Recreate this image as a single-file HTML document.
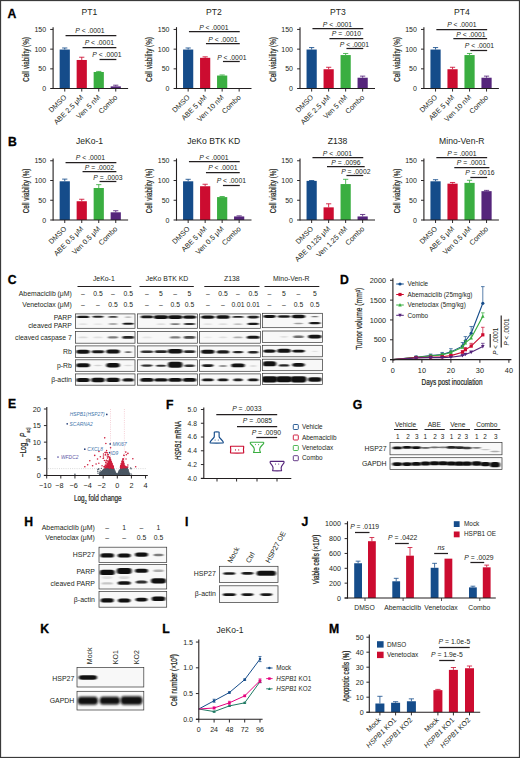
<!DOCTYPE html>
<html lang="en">
<head>
<meta charset="utf-8">
<title>Figure</title>
<style>
html,body{margin:0;padding:0;background:#fff;}
body{width:520px;height:758px;overflow:hidden;}
svg{display:block;}
text{white-space:pre;}
</style>
</head>
<body>
<svg width="520" height="758" viewBox="0 0 520 758" font-family="'Liberation Sans', Arial, sans-serif" fill="#231f20">
<defs>
<filter id="b1" x="-20%" y="-60%" width="140%" height="220%"><feGaussianBlur stdDeviation="1.0 0.65"/></filter>
<filter id="b2" x="-20%" y="-60%" width="140%" height="220%"><feGaussianBlur stdDeviation="1.1 0.8"/></filter>
</defs>
<rect x="0.00" y="0.00" width="520.00" height="758.00" fill="#ffffff"/>
<text x="7.60" y="17.60" font-size="12.2" font-weight="bold" fill="#000" stroke="#000" stroke-width="0.3">A</text>
<text x="89.30" y="15.20" font-size="8.6" text-anchor="middle">PT1</text>
<text x="0.00" y="0.00" font-size="8.8" text-anchor="middle" transform="translate(28.65 59.50) rotate(-90) scale(0.715 1)" stroke="#231f20" stroke-width="0.22">Cell viability (%)</text>
<line x1="64.75" y1="49.54" x2="64.75" y2="47.97" stroke="#154c8a" stroke-width="0.85"/>
<line x1="62.15" y1="47.97" x2="67.35" y2="47.97" stroke="#154c8a" stroke-width="0.85"/>
<rect x="59.65" y="49.54" width="10.20" height="39.01" fill="#154c8a"/>
<line x1="81.75" y1="59.98" x2="81.75" y2="57.23" stroke="#cc0c30" stroke-width="0.85"/>
<line x1="79.15" y1="57.23" x2="84.35" y2="57.23" stroke="#cc0c30" stroke-width="0.85"/>
<rect x="76.65" y="59.98" width="10.20" height="28.56" fill="#cc0c30"/>
<line x1="98.75" y1="72.00" x2="98.75" y2="71.41" stroke="#3aae41" stroke-width="0.85"/>
<line x1="96.15" y1="71.41" x2="101.35" y2="71.41" stroke="#3aae41" stroke-width="0.85"/>
<rect x="93.65" y="72.00" width="10.20" height="16.55" fill="#3aae41"/>
<line x1="115.75" y1="86.38" x2="115.75" y2="85.20" stroke="#55257b" stroke-width="0.85"/>
<line x1="113.15" y1="85.20" x2="118.35" y2="85.20" stroke="#55257b" stroke-width="0.85"/>
<rect x="110.65" y="86.38" width="10.20" height="2.17" fill="#55257b"/>
<line x1="53.10" y1="27.15" x2="53.10" y2="89.10" stroke="#231f20" stroke-width="1.1"/>
<line x1="50.20" y1="88.55" x2="128.10" y2="88.55" stroke="#231f20" stroke-width="1.1"/>
<line x1="50.20" y1="68.85" x2="53.10" y2="68.85" stroke="#231f20" stroke-width="0.95"/>
<line x1="50.20" y1="49.15" x2="53.10" y2="49.15" stroke="#231f20" stroke-width="0.95"/>
<line x1="50.20" y1="29.45" x2="53.10" y2="29.45" stroke="#231f20" stroke-width="0.95"/>
<text x="46.10" y="91.05" font-size="7" text-anchor="end">0</text>
<text x="46.10" y="71.35" font-size="7" text-anchor="end">50</text>
<text x="46.10" y="51.65" font-size="7" text-anchor="end">100</text>
<text x="46.10" y="31.95" font-size="7" text-anchor="end">150</text>
<line x1="64.75" y1="88.55" x2="64.75" y2="91.55" stroke="#231f20" stroke-width="0.95"/>
<text x="0.00" y="0.00" font-size="7.2" text-anchor="end" transform="translate(66.85 97.85) rotate(-45)">DMSO</text>
<line x1="81.75" y1="88.55" x2="81.75" y2="91.55" stroke="#231f20" stroke-width="0.95"/>
<text x="0.00" y="0.00" font-size="7.2" text-anchor="end" transform="translate(83.85 97.85) rotate(-45)">ABE 2.5 μM</text>
<line x1="98.75" y1="88.55" x2="98.75" y2="91.55" stroke="#231f20" stroke-width="0.95"/>
<text x="0.00" y="0.00" font-size="7.2" text-anchor="end" transform="translate(100.85 97.85) rotate(-45)">Ven 5 nM</text>
<line x1="115.75" y1="88.55" x2="115.75" y2="91.55" stroke="#231f20" stroke-width="0.95"/>
<text x="0.00" y="0.00" font-size="7.2" text-anchor="end" transform="translate(117.85 97.85) rotate(-45)">Combo</text>
<line x1="65.55" y1="35.50" x2="116.35" y2="35.50" stroke="#231f20" stroke-width="1.25"/>
<text x="90.00" y="33.00" font-size="6.8" text-anchor="middle"><tspan font-style="italic">P</tspan> &lt; .0001</text>
<line x1="82.55" y1="47.50" x2="116.35" y2="47.50" stroke="#231f20" stroke-width="1.25"/>
<text x="99.30" y="45.00" font-size="6.8" text-anchor="middle"><tspan font-style="italic">P</tspan> &lt; .0001</text>
<line x1="99.55" y1="59.50" x2="116.35" y2="59.50" stroke="#231f20" stroke-width="1.25"/>
<text x="107.00" y="57.40" font-size="6.8" text-anchor="middle"><tspan font-style="italic">P</tspan> &lt; .0001</text>
<text x="213.80" y="15.20" font-size="8.6" text-anchor="middle">PT2</text>
<text x="0.00" y="0.00" font-size="8.8" text-anchor="middle" transform="translate(152.40 59.50) rotate(-90) scale(0.715 1)" stroke="#231f20" stroke-width="0.22">Cell viability (%)</text>
<line x1="188.15" y1="49.54" x2="188.15" y2="47.97" stroke="#154c8a" stroke-width="0.85"/>
<line x1="185.55" y1="47.97" x2="190.75" y2="47.97" stroke="#154c8a" stroke-width="0.85"/>
<rect x="183.05" y="49.54" width="10.20" height="39.01" fill="#154c8a"/>
<line x1="205.15" y1="57.82" x2="205.15" y2="56.83" stroke="#cc0c30" stroke-width="0.85"/>
<line x1="202.55" y1="56.83" x2="207.75" y2="56.83" stroke="#cc0c30" stroke-width="0.85"/>
<rect x="200.05" y="57.82" width="10.20" height="30.73" fill="#cc0c30"/>
<line x1="222.15" y1="75.55" x2="222.15" y2="74.96" stroke="#3aae41" stroke-width="0.85"/>
<line x1="219.55" y1="74.96" x2="224.75" y2="74.96" stroke="#3aae41" stroke-width="0.85"/>
<rect x="217.05" y="75.55" width="10.20" height="13.00" fill="#3aae41"/>
<rect x="234.05" y="88.16" width="10.20" height="0.39" fill="#55257b"/>
<line x1="176.50" y1="27.15" x2="176.50" y2="89.10" stroke="#231f20" stroke-width="1.1"/>
<line x1="173.60" y1="88.55" x2="251.50" y2="88.55" stroke="#231f20" stroke-width="1.1"/>
<line x1="173.60" y1="68.85" x2="176.50" y2="68.85" stroke="#231f20" stroke-width="0.95"/>
<line x1="173.60" y1="49.15" x2="176.50" y2="49.15" stroke="#231f20" stroke-width="0.95"/>
<line x1="173.60" y1="29.45" x2="176.50" y2="29.45" stroke="#231f20" stroke-width="0.95"/>
<text x="169.50" y="91.05" font-size="7" text-anchor="end">0</text>
<text x="169.50" y="71.35" font-size="7" text-anchor="end">50</text>
<text x="169.50" y="51.65" font-size="7" text-anchor="end">100</text>
<text x="169.50" y="31.95" font-size="7" text-anchor="end">150</text>
<line x1="188.15" y1="88.55" x2="188.15" y2="91.55" stroke="#231f20" stroke-width="0.95"/>
<text x="0.00" y="0.00" font-size="7.2" text-anchor="end" transform="translate(190.25 97.85) rotate(-45)">DMSO</text>
<line x1="205.15" y1="88.55" x2="205.15" y2="91.55" stroke="#231f20" stroke-width="0.95"/>
<text x="0.00" y="0.00" font-size="7.2" text-anchor="end" transform="translate(207.25 97.85) rotate(-45)">ABE 5 μM</text>
<line x1="222.15" y1="88.55" x2="222.15" y2="91.55" stroke="#231f20" stroke-width="0.95"/>
<text x="0.00" y="0.00" font-size="7.2" text-anchor="end" transform="translate(224.25 97.85) rotate(-45)">Ven 10 nM</text>
<line x1="239.15" y1="88.55" x2="239.15" y2="91.55" stroke="#231f20" stroke-width="0.95"/>
<text x="0.00" y="0.00" font-size="7.2" text-anchor="end" transform="translate(241.25 97.85) rotate(-45)">Combo</text>
<line x1="188.95" y1="31.50" x2="239.75" y2="31.50" stroke="#231f20" stroke-width="1.25"/>
<text x="213.80" y="29.50" font-size="6.8" text-anchor="middle"><tspan font-style="italic">P</tspan> &lt; .0001</text>
<line x1="205.95" y1="43.50" x2="239.75" y2="43.50" stroke="#231f20" stroke-width="1.25"/>
<text x="223.00" y="41.50" font-size="6.8" text-anchor="middle"><tspan font-style="italic">P</tspan> &lt; .0001</text>
<line x1="222.95" y1="61.50" x2="239.75" y2="61.50" stroke="#231f20" stroke-width="1.25"/>
<text x="231.80" y="60.00" font-size="6.8" text-anchor="middle"><tspan font-style="italic">P</tspan> &lt; .0001</text>
<text x="338.00" y="15.20" font-size="8.6" text-anchor="middle">PT3</text>
<text x="0.00" y="0.00" font-size="8.8" text-anchor="middle" transform="translate(276.20 59.50) rotate(-90) scale(0.715 1)" stroke="#231f20" stroke-width="0.22">Cell viability (%)</text>
<line x1="311.65" y1="49.54" x2="311.65" y2="47.57" stroke="#154c8a" stroke-width="0.85"/>
<line x1="309.05" y1="47.57" x2="314.25" y2="47.57" stroke="#154c8a" stroke-width="0.85"/>
<rect x="306.55" y="49.54" width="10.20" height="39.01" fill="#154c8a"/>
<line x1="328.65" y1="69.24" x2="328.65" y2="67.27" stroke="#cc0c30" stroke-width="0.85"/>
<line x1="326.05" y1="67.27" x2="331.25" y2="67.27" stroke="#cc0c30" stroke-width="0.85"/>
<rect x="323.55" y="69.24" width="10.20" height="19.31" fill="#cc0c30"/>
<line x1="345.65" y1="55.06" x2="345.65" y2="53.48" stroke="#3aae41" stroke-width="0.85"/>
<line x1="343.05" y1="53.48" x2="348.25" y2="53.48" stroke="#3aae41" stroke-width="0.85"/>
<rect x="340.55" y="55.06" width="10.20" height="33.49" fill="#3aae41"/>
<line x1="362.65" y1="77.72" x2="362.65" y2="76.14" stroke="#55257b" stroke-width="0.85"/>
<line x1="360.05" y1="76.14" x2="365.25" y2="76.14" stroke="#55257b" stroke-width="0.85"/>
<rect x="357.55" y="77.72" width="10.20" height="10.83" fill="#55257b"/>
<line x1="300.00" y1="27.15" x2="300.00" y2="89.10" stroke="#231f20" stroke-width="1.1"/>
<line x1="297.10" y1="88.55" x2="375.00" y2="88.55" stroke="#231f20" stroke-width="1.1"/>
<line x1="297.10" y1="68.85" x2="300.00" y2="68.85" stroke="#231f20" stroke-width="0.95"/>
<line x1="297.10" y1="49.15" x2="300.00" y2="49.15" stroke="#231f20" stroke-width="0.95"/>
<line x1="297.10" y1="29.45" x2="300.00" y2="29.45" stroke="#231f20" stroke-width="0.95"/>
<text x="293.00" y="91.05" font-size="7" text-anchor="end">0</text>
<text x="293.00" y="71.35" font-size="7" text-anchor="end">50</text>
<text x="293.00" y="51.65" font-size="7" text-anchor="end">100</text>
<text x="293.00" y="31.95" font-size="7" text-anchor="end">150</text>
<line x1="311.65" y1="88.55" x2="311.65" y2="91.55" stroke="#231f20" stroke-width="0.95"/>
<text x="0.00" y="0.00" font-size="7.2" text-anchor="end" transform="translate(313.75 97.85) rotate(-45)">DMSO</text>
<line x1="328.65" y1="88.55" x2="328.65" y2="91.55" stroke="#231f20" stroke-width="0.95"/>
<text x="0.00" y="0.00" font-size="7.2" text-anchor="end" transform="translate(330.75 97.85) rotate(-45)">ABE 2.5 μM</text>
<line x1="345.65" y1="88.55" x2="345.65" y2="91.55" stroke="#231f20" stroke-width="0.95"/>
<text x="0.00" y="0.00" font-size="7.2" text-anchor="end" transform="translate(347.75 97.85) rotate(-45)">Ven 5 nM</text>
<line x1="362.65" y1="88.55" x2="362.65" y2="91.55" stroke="#231f20" stroke-width="0.95"/>
<text x="0.00" y="0.00" font-size="7.2" text-anchor="end" transform="translate(364.75 97.85) rotate(-45)">Combo</text>
<line x1="312.45" y1="28.50" x2="363.25" y2="28.50" stroke="#231f20" stroke-width="1.25"/>
<text x="337.50" y="26.80" font-size="6.8" text-anchor="middle"><tspan font-style="italic">P</tspan> &lt; .0001</text>
<line x1="329.45" y1="38.50" x2="363.25" y2="38.50" stroke="#231f20" stroke-width="1.25"/>
<text x="346.50" y="36.30" font-size="6.8" text-anchor="middle"><tspan font-style="italic">P</tspan> = .0010</text>
<line x1="346.45" y1="48.50" x2="363.25" y2="48.50" stroke="#231f20" stroke-width="1.25"/>
<text x="354.50" y="46.60" font-size="6.8" text-anchor="middle"><tspan font-style="italic">P</tspan> &lt; .0001</text>
<text x="461.80" y="15.20" font-size="8.6" text-anchor="middle">PT4</text>
<text x="0.00" y="0.00" font-size="8.8" text-anchor="middle" transform="translate(399.90 59.50) rotate(-90) scale(0.715 1)" stroke="#231f20" stroke-width="0.22">Cell viability (%)</text>
<line x1="435.55" y1="49.54" x2="435.55" y2="47.57" stroke="#154c8a" stroke-width="0.85"/>
<line x1="432.95" y1="47.57" x2="438.15" y2="47.57" stroke="#154c8a" stroke-width="0.85"/>
<rect x="430.45" y="49.54" width="10.20" height="39.01" fill="#154c8a"/>
<line x1="452.55" y1="69.24" x2="452.55" y2="67.27" stroke="#cc0c30" stroke-width="0.85"/>
<line x1="449.95" y1="67.27" x2="455.15" y2="67.27" stroke="#cc0c30" stroke-width="0.85"/>
<rect x="447.45" y="69.24" width="10.20" height="19.31" fill="#cc0c30"/>
<line x1="469.55" y1="55.06" x2="469.55" y2="53.48" stroke="#3aae41" stroke-width="0.85"/>
<line x1="466.95" y1="53.48" x2="472.15" y2="53.48" stroke="#3aae41" stroke-width="0.85"/>
<rect x="464.45" y="55.06" width="10.20" height="33.49" fill="#3aae41"/>
<line x1="486.55" y1="77.72" x2="486.55" y2="76.14" stroke="#55257b" stroke-width="0.85"/>
<line x1="483.95" y1="76.14" x2="489.15" y2="76.14" stroke="#55257b" stroke-width="0.85"/>
<rect x="481.45" y="77.72" width="10.20" height="10.83" fill="#55257b"/>
<line x1="423.90" y1="27.15" x2="423.90" y2="89.10" stroke="#231f20" stroke-width="1.1"/>
<line x1="421.00" y1="88.55" x2="498.90" y2="88.55" stroke="#231f20" stroke-width="1.1"/>
<line x1="421.00" y1="68.85" x2="423.90" y2="68.85" stroke="#231f20" stroke-width="0.95"/>
<line x1="421.00" y1="49.15" x2="423.90" y2="49.15" stroke="#231f20" stroke-width="0.95"/>
<line x1="421.00" y1="29.45" x2="423.90" y2="29.45" stroke="#231f20" stroke-width="0.95"/>
<text x="416.90" y="91.05" font-size="7" text-anchor="end">0</text>
<text x="416.90" y="71.35" font-size="7" text-anchor="end">50</text>
<text x="416.90" y="51.65" font-size="7" text-anchor="end">100</text>
<text x="416.90" y="31.95" font-size="7" text-anchor="end">150</text>
<line x1="435.55" y1="88.55" x2="435.55" y2="91.55" stroke="#231f20" stroke-width="0.95"/>
<text x="0.00" y="0.00" font-size="7.2" text-anchor="end" transform="translate(437.65 97.85) rotate(-45)">DMSO</text>
<line x1="452.55" y1="88.55" x2="452.55" y2="91.55" stroke="#231f20" stroke-width="0.95"/>
<text x="0.00" y="0.00" font-size="7.2" text-anchor="end" transform="translate(454.65 97.85) rotate(-45)">ABE 5 μM</text>
<line x1="469.55" y1="88.55" x2="469.55" y2="91.55" stroke="#231f20" stroke-width="0.95"/>
<text x="0.00" y="0.00" font-size="7.2" text-anchor="end" transform="translate(471.65 97.85) rotate(-45)">Ven 10 nM</text>
<line x1="486.55" y1="88.55" x2="486.55" y2="91.55" stroke="#231f20" stroke-width="0.95"/>
<text x="0.00" y="0.00" font-size="7.2" text-anchor="end" transform="translate(488.65 97.85) rotate(-45)">Combo</text>
<line x1="436.35" y1="29.50" x2="487.15" y2="29.50" stroke="#231f20" stroke-width="1.25"/>
<text x="461.80" y="27.30" font-size="6.8" text-anchor="middle"><tspan font-style="italic">P</tspan> &lt; .0001</text>
<line x1="453.35" y1="38.50" x2="487.15" y2="38.50" stroke="#231f20" stroke-width="1.25"/>
<text x="471.00" y="36.80" font-size="6.8" text-anchor="middle"><tspan font-style="italic">P</tspan> &lt; .0001</text>
<line x1="470.35" y1="50.50" x2="487.15" y2="50.50" stroke="#231f20" stroke-width="1.25"/>
<text x="479.50" y="48.20" font-size="6.8" text-anchor="middle"><tspan font-style="italic">P</tspan> &lt; .0001</text>
<text x="8.00" y="145.60" font-size="12.2" font-weight="bold" fill="#000" stroke="#000" stroke-width="0.3">B</text>
<text x="89.50" y="143.80" font-size="8.6" text-anchor="middle">JeKo-1</text>
<text x="0.00" y="0.00" font-size="8.8" text-anchor="middle" transform="translate(28.65 190.88) rotate(-90) scale(0.715 1)" stroke="#231f20" stroke-width="0.22">Cell viability (%)</text>
<line x1="64.75" y1="181.29" x2="64.75" y2="179.12" stroke="#154c8a" stroke-width="0.85"/>
<line x1="62.15" y1="179.12" x2="67.35" y2="179.12" stroke="#154c8a" stroke-width="0.85"/>
<rect x="59.65" y="181.29" width="10.20" height="38.71" fill="#154c8a"/>
<line x1="81.75" y1="201.24" x2="81.75" y2="199.26" stroke="#cc0c30" stroke-width="0.85"/>
<line x1="79.15" y1="199.26" x2="84.35" y2="199.26" stroke="#cc0c30" stroke-width="0.85"/>
<rect x="76.65" y="201.24" width="10.20" height="18.76" fill="#cc0c30"/>
<line x1="98.75" y1="188.00" x2="98.75" y2="184.65" stroke="#3aae41" stroke-width="0.85"/>
<line x1="96.15" y1="184.65" x2="101.35" y2="184.65" stroke="#3aae41" stroke-width="0.85"/>
<rect x="93.65" y="188.00" width="10.20" height="32.00" fill="#3aae41"/>
<line x1="115.75" y1="212.30" x2="115.75" y2="210.72" stroke="#55257b" stroke-width="0.85"/>
<line x1="113.15" y1="210.72" x2="118.35" y2="210.72" stroke="#55257b" stroke-width="0.85"/>
<rect x="110.65" y="212.30" width="10.20" height="7.70" fill="#55257b"/>
<line x1="53.10" y1="158.45" x2="53.10" y2="220.55" stroke="#231f20" stroke-width="1.1"/>
<line x1="50.20" y1="220.00" x2="128.10" y2="220.00" stroke="#231f20" stroke-width="1.1"/>
<line x1="50.20" y1="200.25" x2="53.10" y2="200.25" stroke="#231f20" stroke-width="0.95"/>
<line x1="50.20" y1="180.50" x2="53.10" y2="180.50" stroke="#231f20" stroke-width="0.95"/>
<line x1="50.20" y1="160.75" x2="53.10" y2="160.75" stroke="#231f20" stroke-width="0.95"/>
<text x="46.10" y="222.50" font-size="7" text-anchor="end">0</text>
<text x="46.10" y="202.75" font-size="7" text-anchor="end">50</text>
<text x="46.10" y="183.00" font-size="7" text-anchor="end">100</text>
<text x="46.10" y="163.25" font-size="7" text-anchor="end">150</text>
<line x1="64.75" y1="220.00" x2="64.75" y2="223.00" stroke="#231f20" stroke-width="0.95"/>
<text x="0.00" y="0.00" font-size="7.2" text-anchor="end" transform="translate(66.85 229.30) rotate(-45)">DMSO</text>
<line x1="81.75" y1="220.00" x2="81.75" y2="223.00" stroke="#231f20" stroke-width="0.95"/>
<text x="0.00" y="0.00" font-size="7.2" text-anchor="end" transform="translate(83.85 229.30) rotate(-45)">ABE 0.5 μM</text>
<line x1="98.75" y1="220.00" x2="98.75" y2="223.00" stroke="#231f20" stroke-width="0.95"/>
<text x="0.00" y="0.00" font-size="7.2" text-anchor="end" transform="translate(100.85 229.30) rotate(-45)">Ven 0.5 μM</text>
<line x1="115.75" y1="220.00" x2="115.75" y2="223.00" stroke="#231f20" stroke-width="0.95"/>
<text x="0.00" y="0.00" font-size="7.2" text-anchor="end" transform="translate(117.85 229.30) rotate(-45)">Combo</text>
<line x1="65.55" y1="162.50" x2="116.35" y2="162.50" stroke="#231f20" stroke-width="1.25"/>
<text x="90.50" y="159.70" font-size="6.8" text-anchor="middle"><tspan font-style="italic">P</tspan> &lt; .0001</text>
<line x1="82.55" y1="171.50" x2="116.35" y2="171.50" stroke="#231f20" stroke-width="1.25"/>
<text x="99.50" y="169.60" font-size="6.8" text-anchor="middle"><tspan font-style="italic">P</tspan> = .0002</text>
<line x1="99.55" y1="181.50" x2="116.35" y2="181.50" stroke="#231f20" stroke-width="1.25"/>
<text x="108.00" y="179.50" font-size="6.8" text-anchor="middle"><tspan font-style="italic">P</tspan> = .0003</text>
<text x="213.80" y="143.80" font-size="8.6" text-anchor="middle">JeKo BTK KD</text>
<text x="0.00" y="0.00" font-size="8.8" text-anchor="middle" transform="translate(152.40 190.88) rotate(-90) scale(0.715 1)" stroke="#231f20" stroke-width="0.22">Cell viability (%)</text>
<line x1="188.15" y1="181.29" x2="188.15" y2="179.31" stroke="#154c8a" stroke-width="0.85"/>
<line x1="185.55" y1="179.31" x2="190.75" y2="179.31" stroke="#154c8a" stroke-width="0.85"/>
<rect x="183.05" y="181.29" width="10.20" height="38.71" fill="#154c8a"/>
<line x1="205.15" y1="186.23" x2="205.15" y2="184.25" stroke="#cc0c30" stroke-width="0.85"/>
<line x1="202.55" y1="184.25" x2="207.75" y2="184.25" stroke="#cc0c30" stroke-width="0.85"/>
<rect x="200.05" y="186.23" width="10.20" height="33.77" fill="#cc0c30"/>
<line x1="222.15" y1="197.09" x2="222.15" y2="196.50" stroke="#3aae41" stroke-width="0.85"/>
<line x1="219.55" y1="196.50" x2="224.75" y2="196.50" stroke="#3aae41" stroke-width="0.85"/>
<rect x="217.05" y="197.09" width="10.20" height="22.91" fill="#3aae41"/>
<line x1="239.15" y1="216.44" x2="239.15" y2="215.85" stroke="#55257b" stroke-width="0.85"/>
<line x1="236.55" y1="215.85" x2="241.75" y2="215.85" stroke="#55257b" stroke-width="0.85"/>
<rect x="234.05" y="216.44" width="10.20" height="3.56" fill="#55257b"/>
<line x1="176.50" y1="158.45" x2="176.50" y2="220.55" stroke="#231f20" stroke-width="1.1"/>
<line x1="173.60" y1="220.00" x2="251.50" y2="220.00" stroke="#231f20" stroke-width="1.1"/>
<line x1="173.60" y1="200.25" x2="176.50" y2="200.25" stroke="#231f20" stroke-width="0.95"/>
<line x1="173.60" y1="180.50" x2="176.50" y2="180.50" stroke="#231f20" stroke-width="0.95"/>
<line x1="173.60" y1="160.75" x2="176.50" y2="160.75" stroke="#231f20" stroke-width="0.95"/>
<text x="169.50" y="222.50" font-size="7" text-anchor="end">0</text>
<text x="169.50" y="202.75" font-size="7" text-anchor="end">50</text>
<text x="169.50" y="183.00" font-size="7" text-anchor="end">100</text>
<text x="169.50" y="163.25" font-size="7" text-anchor="end">150</text>
<line x1="188.15" y1="220.00" x2="188.15" y2="223.00" stroke="#231f20" stroke-width="0.95"/>
<text x="0.00" y="0.00" font-size="7.2" text-anchor="end" transform="translate(190.25 229.30) rotate(-45)">DMSO</text>
<line x1="205.15" y1="220.00" x2="205.15" y2="223.00" stroke="#231f20" stroke-width="0.95"/>
<text x="0.00" y="0.00" font-size="7.2" text-anchor="end" transform="translate(207.25 229.30) rotate(-45)">ABE 5 μM</text>
<line x1="222.15" y1="220.00" x2="222.15" y2="223.00" stroke="#231f20" stroke-width="0.95"/>
<text x="0.00" y="0.00" font-size="7.2" text-anchor="end" transform="translate(224.25 229.30) rotate(-45)">Ven 0.5 μM</text>
<line x1="239.15" y1="220.00" x2="239.15" y2="223.00" stroke="#231f20" stroke-width="0.95"/>
<text x="0.00" y="0.00" font-size="7.2" text-anchor="end" transform="translate(241.25 229.30) rotate(-45)">Combo</text>
<line x1="188.95" y1="161.50" x2="239.75" y2="161.50" stroke="#231f20" stroke-width="1.25"/>
<text x="213.80" y="159.70" font-size="6.8" text-anchor="middle"><tspan font-style="italic">P</tspan> &lt; .0001</text>
<line x1="205.95" y1="172.50" x2="239.75" y2="172.50" stroke="#231f20" stroke-width="1.25"/>
<text x="222.80" y="170.40" font-size="6.8" text-anchor="middle"><tspan font-style="italic">P</tspan> &lt; .0001</text>
<line x1="222.95" y1="185.50" x2="239.75" y2="185.50" stroke="#231f20" stroke-width="1.25"/>
<text x="231.30" y="183.20" font-size="6.8" text-anchor="middle"><tspan font-style="italic">P</tspan> &lt; .0001</text>
<text x="337.50" y="143.80" font-size="8.6" text-anchor="middle">Z138</text>
<text x="0.00" y="0.00" font-size="8.8" text-anchor="middle" transform="translate(276.20 190.88) rotate(-90) scale(0.715 1)" stroke="#231f20" stroke-width="0.22">Cell viability (%)</text>
<line x1="311.65" y1="180.89" x2="311.65" y2="180.50" stroke="#154c8a" stroke-width="0.85"/>
<line x1="309.05" y1="180.50" x2="314.25" y2="180.50" stroke="#154c8a" stroke-width="0.85"/>
<rect x="306.55" y="180.89" width="10.20" height="39.11" fill="#154c8a"/>
<line x1="328.65" y1="207.36" x2="328.65" y2="203.81" stroke="#cc0c30" stroke-width="0.85"/>
<line x1="326.05" y1="203.81" x2="331.25" y2="203.81" stroke="#cc0c30" stroke-width="0.85"/>
<rect x="323.55" y="207.36" width="10.20" height="12.64" fill="#cc0c30"/>
<line x1="345.65" y1="184.06" x2="345.65" y2="179.31" stroke="#3aae41" stroke-width="0.85"/>
<line x1="343.05" y1="179.31" x2="348.25" y2="179.31" stroke="#3aae41" stroke-width="0.85"/>
<rect x="340.55" y="184.06" width="10.20" height="35.94" fill="#3aae41"/>
<line x1="362.65" y1="216.44" x2="362.65" y2="214.47" stroke="#55257b" stroke-width="0.85"/>
<line x1="360.05" y1="214.47" x2="365.25" y2="214.47" stroke="#55257b" stroke-width="0.85"/>
<rect x="357.55" y="216.44" width="10.20" height="3.56" fill="#55257b"/>
<line x1="300.00" y1="158.45" x2="300.00" y2="220.55" stroke="#231f20" stroke-width="1.1"/>
<line x1="297.10" y1="220.00" x2="375.00" y2="220.00" stroke="#231f20" stroke-width="1.1"/>
<line x1="297.10" y1="200.25" x2="300.00" y2="200.25" stroke="#231f20" stroke-width="0.95"/>
<line x1="297.10" y1="180.50" x2="300.00" y2="180.50" stroke="#231f20" stroke-width="0.95"/>
<line x1="297.10" y1="160.75" x2="300.00" y2="160.75" stroke="#231f20" stroke-width="0.95"/>
<text x="293.00" y="222.50" font-size="7" text-anchor="end">0</text>
<text x="293.00" y="202.75" font-size="7" text-anchor="end">50</text>
<text x="293.00" y="183.00" font-size="7" text-anchor="end">100</text>
<text x="293.00" y="163.25" font-size="7" text-anchor="end">150</text>
<line x1="311.65" y1="220.00" x2="311.65" y2="223.00" stroke="#231f20" stroke-width="0.95"/>
<text x="0.00" y="0.00" font-size="7.2" text-anchor="end" transform="translate(313.75 229.30) rotate(-45)">DMSO</text>
<line x1="328.65" y1="220.00" x2="328.65" y2="223.00" stroke="#231f20" stroke-width="0.95"/>
<text x="0.00" y="0.00" font-size="7.2" text-anchor="end" transform="translate(330.75 229.30) rotate(-45)">ABE 0.125 μM</text>
<line x1="345.65" y1="220.00" x2="345.65" y2="223.00" stroke="#231f20" stroke-width="0.95"/>
<text x="0.00" y="0.00" font-size="7.2" text-anchor="end" transform="translate(347.75 229.30) rotate(-45)">Ven 1.25 nM</text>
<line x1="362.65" y1="220.00" x2="362.65" y2="223.00" stroke="#231f20" stroke-width="0.95"/>
<text x="0.00" y="0.00" font-size="7.2" text-anchor="end" transform="translate(364.75 229.30) rotate(-45)">Combo</text>
<line x1="312.45" y1="157.50" x2="363.25" y2="157.50" stroke="#231f20" stroke-width="1.25"/>
<text x="337.50" y="156.00" font-size="6.8" text-anchor="middle"><tspan font-style="italic">P</tspan> &lt; .0001</text>
<line x1="327.00" y1="166.50" x2="364.70" y2="166.50" stroke="#231f20" stroke-width="1.25"/>
<text x="346.00" y="165.00" font-size="6.8" text-anchor="middle"><tspan font-style="italic">P</tspan> = .0096</text>
<line x1="346.45" y1="175.50" x2="363.25" y2="175.50" stroke="#231f20" stroke-width="1.25"/>
<text x="355.80" y="174.20" font-size="6.8" text-anchor="middle"><tspan font-style="italic">P</tspan> = .0002</text>
<text x="461.80" y="143.80" font-size="8.6" text-anchor="middle">Mino-Ven-R</text>
<text x="0.00" y="0.00" font-size="8.8" text-anchor="middle" transform="translate(399.90 190.88) rotate(-90) scale(0.715 1)" stroke="#231f20" stroke-width="0.22">Cell viability (%)</text>
<line x1="435.55" y1="181.29" x2="435.55" y2="179.71" stroke="#154c8a" stroke-width="0.85"/>
<line x1="432.95" y1="179.71" x2="438.15" y2="179.71" stroke="#154c8a" stroke-width="0.85"/>
<rect x="430.45" y="181.29" width="10.20" height="38.71" fill="#154c8a"/>
<line x1="452.55" y1="183.66" x2="452.55" y2="182.47" stroke="#cc0c30" stroke-width="0.85"/>
<line x1="449.95" y1="182.47" x2="455.15" y2="182.47" stroke="#cc0c30" stroke-width="0.85"/>
<rect x="447.45" y="183.66" width="10.20" height="36.34" fill="#cc0c30"/>
<line x1="469.55" y1="182.87" x2="469.55" y2="180.30" stroke="#3aae41" stroke-width="0.85"/>
<line x1="466.95" y1="180.30" x2="472.15" y2="180.30" stroke="#3aae41" stroke-width="0.85"/>
<rect x="464.45" y="182.87" width="10.20" height="37.13" fill="#3aae41"/>
<line x1="486.55" y1="191.16" x2="486.55" y2="190.38" stroke="#55257b" stroke-width="0.85"/>
<line x1="483.95" y1="190.38" x2="489.15" y2="190.38" stroke="#55257b" stroke-width="0.85"/>
<rect x="481.45" y="191.16" width="10.20" height="28.84" fill="#55257b"/>
<line x1="423.90" y1="158.45" x2="423.90" y2="220.55" stroke="#231f20" stroke-width="1.1"/>
<line x1="421.00" y1="220.00" x2="498.90" y2="220.00" stroke="#231f20" stroke-width="1.1"/>
<line x1="421.00" y1="200.25" x2="423.90" y2="200.25" stroke="#231f20" stroke-width="0.95"/>
<line x1="421.00" y1="180.50" x2="423.90" y2="180.50" stroke="#231f20" stroke-width="0.95"/>
<line x1="421.00" y1="160.75" x2="423.90" y2="160.75" stroke="#231f20" stroke-width="0.95"/>
<text x="416.90" y="222.50" font-size="7" text-anchor="end">0</text>
<text x="416.90" y="202.75" font-size="7" text-anchor="end">50</text>
<text x="416.90" y="183.00" font-size="7" text-anchor="end">100</text>
<text x="416.90" y="163.25" font-size="7" text-anchor="end">150</text>
<line x1="435.55" y1="220.00" x2="435.55" y2="223.00" stroke="#231f20" stroke-width="0.95"/>
<text x="0.00" y="0.00" font-size="7.2" text-anchor="end" transform="translate(437.65 229.30) rotate(-45)">DMSO</text>
<line x1="452.55" y1="220.00" x2="452.55" y2="223.00" stroke="#231f20" stroke-width="0.95"/>
<text x="0.00" y="0.00" font-size="7.2" text-anchor="end" transform="translate(454.65 229.30) rotate(-45)">ABE 5 μM</text>
<line x1="469.55" y1="220.00" x2="469.55" y2="223.00" stroke="#231f20" stroke-width="0.95"/>
<text x="0.00" y="0.00" font-size="7.2" text-anchor="end" transform="translate(471.65 229.30) rotate(-45)">Ven 0.5 μM</text>
<line x1="486.55" y1="220.00" x2="486.55" y2="223.00" stroke="#231f20" stroke-width="0.95"/>
<text x="0.00" y="0.00" font-size="7.2" text-anchor="end" transform="translate(488.65 229.30) rotate(-45)">Combo</text>
<line x1="436.35" y1="157.50" x2="487.15" y2="157.50" stroke="#231f20" stroke-width="1.25"/>
<text x="461.80" y="155.70" font-size="6.8" text-anchor="middle"><tspan font-style="italic">P</tspan> = .0001</text>
<line x1="454.30" y1="167.50" x2="489.40" y2="167.50" stroke="#231f20" stroke-width="1.25"/>
<text x="471.50" y="165.40" font-size="6.8" text-anchor="middle"><tspan font-style="italic">P</tspan> = .0001</text>
<line x1="470.35" y1="177.50" x2="487.15" y2="177.50" stroke="#231f20" stroke-width="1.25"/>
<text x="479.80" y="175.20" font-size="6.8" text-anchor="middle"><tspan font-style="italic">P</tspan> = .0016</text>
<text x="7.80" y="283.80" font-size="12.2" font-weight="bold" fill="#000" stroke="#000" stroke-width="0.3">C</text>
<text x="71.80" y="296.30" font-size="6.85" text-anchor="end">Abemaciclib (μM)</text>
<text x="71.80" y="307.10" font-size="6.85" text-anchor="end">Venetoclax (μM)</text>
<text x="71.80" y="320.20" font-size="6.85" text-anchor="end">PARP</text>
<text x="71.80" y="327.80" font-size="6.85" text-anchor="end">cleaved PARP</text>
<text x="71.80" y="340.10" font-size="6.85" text-anchor="end">cleaved caspase 7</text>
<text x="71.80" y="354.40" font-size="6.85" text-anchor="end">Rb</text>
<text x="71.80" y="368.10" font-size="6.85" text-anchor="end">p-Rb</text>
<text x="71.80" y="381.90" font-size="6.85" text-anchor="end">β-actin</text>
<text x="103.80" y="281.40" font-size="6.9" text-anchor="middle">JeKo-1</text>
<line x1="77.50" y1="286.50" x2="131.30" y2="286.50" stroke="#231f20" stroke-width="1"/>
<text x="83.00" y="296.30" font-size="6.8" text-anchor="middle">–</text>
<text x="98.00" y="296.30" font-size="6.8" text-anchor="middle">0.5</text>
<text x="113.00" y="296.30" font-size="6.8" text-anchor="middle">–</text>
<text x="128.20" y="296.30" font-size="6.8" text-anchor="middle">0.5</text>
<text x="83.00" y="307.10" font-size="6.8" text-anchor="middle">–</text>
<text x="98.00" y="307.10" font-size="6.8" text-anchor="middle">–</text>
<text x="113.00" y="307.10" font-size="6.8" text-anchor="middle">0.5</text>
<text x="128.20" y="307.10" font-size="6.8" text-anchor="middle">0.5</text>
<g clip-path="url(#cc0_0)">
<clipPath id="cc0_0"><rect x="75.50" y="313.90" width="59.50" height="14.40"/></clipPath>
<rect x="75.50" y="313.90" width="59.50" height="14.40" fill="#f8f8f8"/>
<rect x="76.76" y="315.70" width="12.48" height="2.39" rx="3.20" ry="1.20" fill="#0c0c0c" fill-opacity="0.95" filter="url(#b1)"/>
<rect x="92.28" y="315.69" width="11.44" height="2.02" rx="3.20" ry="1.01" fill="#0c0c0c" fill-opacity="0.90" filter="url(#b1)"/>
<rect x="108.32" y="315.98" width="9.36" height="1.84" rx="3.20" ry="0.92" fill="#0c0c0c" fill-opacity="0.80" filter="url(#b1)"/>
<rect x="124.56" y="316.46" width="7.28" height="1.29" rx="3.20" ry="0.64" fill="#0c0c0c" fill-opacity="0.35" filter="url(#b1)"/>
<rect x="78.32" y="323.46" width="9.36" height="1.29" rx="3.20" ry="0.64" fill="#0c0c0c" fill-opacity="0.12" filter="url(#b1)"/>
<rect x="93.32" y="323.46" width="9.36" height="1.29" rx="3.20" ry="0.64" fill="#0c0c0c" fill-opacity="0.10" filter="url(#b1)"/>
<rect x="108.32" y="323.36" width="9.36" height="1.47" rx="3.20" ry="0.74" fill="#0c0c0c" fill-opacity="0.40" filter="url(#b1)"/>
<rect x="122.48" y="322.79" width="11.44" height="2.02" rx="3.20" ry="1.01" fill="#0c0c0c" fill-opacity="0.95" filter="url(#b1)"/>
</g>
<rect x="75.50" y="313.90" width="59.50" height="14.40" fill="none" stroke="#333" stroke-width="0.7"/>
<g clip-path="url(#cc0_1)">
<clipPath id="cc0_1"><rect x="75.50" y="331.60" width="59.50" height="11.60"/></clipPath>
<rect x="75.50" y="331.60" width="59.50" height="11.60" fill="#f8f8f8"/>
<rect x="78.32" y="336.48" width="9.36" height="1.84" rx="3.20" ry="0.92" fill="#0c0c0c" fill-opacity="0.12" filter="url(#b1)"/>
<rect x="93.32" y="336.48" width="9.36" height="1.84" rx="3.20" ry="0.92" fill="#0c0c0c" fill-opacity="0.10" filter="url(#b1)"/>
<rect x="107.80" y="336.30" width="10.40" height="2.21" rx="3.20" ry="1.10" fill="#0c0c0c" fill-opacity="0.50" filter="url(#b1)"/>
<rect x="122.22" y="336.02" width="11.96" height="2.76" rx="3.20" ry="1.38" fill="#0c0c0c" fill-opacity="0.90" filter="url(#b1)"/>
</g>
<rect x="75.50" y="331.60" width="59.50" height="11.60" fill="none" stroke="#333" stroke-width="0.7"/>
<g clip-path="url(#cc0_2)">
<clipPath id="cc0_2"><rect x="75.50" y="345.90" width="59.50" height="11.50"/></clipPath>
<rect x="75.50" y="345.90" width="59.50" height="11.50" fill="#f8f8f8"/>
<rect x="76.24" y="349.77" width="13.52" height="3.86" rx="3.20" ry="1.93" fill="#0c0c0c" fill-opacity="0.98" filter="url(#b1)"/>
<rect x="91.76" y="350.23" width="12.48" height="2.94" rx="3.20" ry="1.47" fill="#0c0c0c" fill-opacity="0.95" filter="url(#b1)"/>
<rect x="106.24" y="349.38" width="13.52" height="4.23" rx="3.20" ry="2.12" fill="#0c0c0c" fill-opacity="0.98" filter="url(#b1)"/>
<rect x="124.56" y="351.18" width="7.28" height="1.84" rx="3.20" ry="0.92" fill="#0c0c0c" fill-opacity="0.60" filter="url(#b1)"/>
</g>
<rect x="75.50" y="345.90" width="59.50" height="11.50" fill="none" stroke="#333" stroke-width="0.7"/>
<g clip-path="url(#cc0_3)">
<clipPath id="cc0_3"><rect x="75.50" y="359.80" width="59.50" height="11.50"/></clipPath>
<rect x="75.50" y="359.80" width="59.50" height="11.50" fill="#f8f8f8"/>
<rect x="76.24" y="363.18" width="13.52" height="4.05" rx="3.20" ry="2.02" fill="#0c0c0c" fill-opacity="0.98" filter="url(#b1)"/>
<rect x="93.84" y="364.86" width="8.32" height="1.47" rx="3.20" ry="0.74" fill="#0c0c0c" fill-opacity="0.15" filter="url(#b1)"/>
<rect x="106.24" y="362.99" width="13.52" height="4.42" rx="3.20" ry="2.21" fill="#0c0c0c" fill-opacity="0.98" filter="url(#b1)"/>
<rect x="124.04" y="364.86" width="8.32" height="1.47" rx="3.20" ry="0.74" fill="#0c0c0c" fill-opacity="0.12" filter="url(#b1)"/>
</g>
<rect x="75.50" y="359.80" width="59.50" height="11.50" fill="none" stroke="#333" stroke-width="0.7"/>
<g clip-path="url(#cc0_4)">
<clipPath id="cc0_4"><rect x="75.50" y="373.90" width="59.50" height="11.30"/></clipPath>
<rect x="75.50" y="373.90" width="59.50" height="11.30" fill="#f8f8f8"/>
<rect x="76.24" y="377.88" width="13.52" height="4.04" rx="3.20" ry="2.02" fill="#0c0c0c" fill-opacity="0.98" filter="url(#b1)"/>
<rect x="91.24" y="377.66" width="13.52" height="4.49" rx="3.20" ry="2.24" fill="#0c0c0c" fill-opacity="0.98" filter="url(#b1)"/>
<rect x="106.24" y="377.77" width="13.52" height="4.27" rx="3.20" ry="2.13" fill="#0c0c0c" fill-opacity="0.98" filter="url(#b1)"/>
<rect x="122.48" y="378.22" width="11.44" height="3.37" rx="3.20" ry="1.68" fill="#0c0c0c" fill-opacity="0.95" filter="url(#b1)"/>
</g>
<rect x="75.50" y="373.90" width="59.50" height="11.30" fill="none" stroke="#333" stroke-width="0.7"/>
<text x="167.00" y="281.40" font-size="6.9" text-anchor="middle">JeKo BTK KD</text>
<line x1="139.50" y1="286.50" x2="193.80" y2="286.50" stroke="#231f20" stroke-width="1"/>
<text x="147.00" y="296.30" font-size="6.8" text-anchor="middle">–</text>
<text x="161.00" y="296.30" font-size="6.8" text-anchor="middle">5</text>
<text x="175.20" y="296.30" font-size="6.8" text-anchor="middle">–</text>
<text x="189.50" y="296.30" font-size="6.8" text-anchor="middle">5</text>
<text x="147.00" y="307.10" font-size="6.8" text-anchor="middle">–</text>
<text x="161.00" y="307.10" font-size="6.8" text-anchor="middle">–</text>
<text x="175.20" y="307.10" font-size="6.8" text-anchor="middle">0.5</text>
<text x="189.50" y="307.10" font-size="6.8" text-anchor="middle">0.5</text>
<g clip-path="url(#cc1_0)">
<clipPath id="cc1_0"><rect x="137.50" y="313.90" width="60.00" height="14.40"/></clipPath>
<rect x="137.50" y="313.90" width="60.00" height="14.40" fill="#f8f8f8"/>
<rect x="140.76" y="315.61" width="12.48" height="2.58" rx="3.20" ry="1.29" fill="#0c0c0c" fill-opacity="0.95" filter="url(#b1)"/>
<rect x="153.72" y="315.26" width="14.56" height="3.68" rx="3.20" ry="1.84" fill="#0c0c0c" fill-opacity="0.98" filter="url(#b1)"/>
<rect x="167.92" y="315.17" width="14.56" height="3.86" rx="3.20" ry="1.93" fill="#0c0c0c" fill-opacity="0.98" filter="url(#b1)"/>
<rect x="182.74" y="315.54" width="13.52" height="3.13" rx="3.20" ry="1.56" fill="#0c0c0c" fill-opacity="0.98" filter="url(#b1)"/>
<rect x="156.32" y="323.46" width="9.36" height="1.29" rx="3.20" ry="0.64" fill="#0c0c0c" fill-opacity="0.15" filter="url(#b1)"/>
<rect x="170.00" y="323.27" width="10.40" height="1.66" rx="3.20" ry="0.83" fill="#0c0c0c" fill-opacity="0.50" filter="url(#b1)"/>
<rect x="183.78" y="323.09" width="11.44" height="2.02" rx="3.20" ry="1.01" fill="#0c0c0c" fill-opacity="0.85" filter="url(#b1)"/>
</g>
<rect x="137.50" y="313.90" width="60.00" height="14.40" fill="none" stroke="#333" stroke-width="0.7"/>
<g clip-path="url(#cc1_1)">
<clipPath id="cc1_1"><rect x="137.50" y="331.60" width="60.00" height="11.60"/></clipPath>
<rect x="137.50" y="331.60" width="60.00" height="11.60" fill="#f8f8f8"/>
<rect x="142.32" y="336.48" width="9.36" height="1.84" rx="3.20" ry="0.92" fill="#0c0c0c" fill-opacity="0.08" filter="url(#b1)"/>
<rect x="170.00" y="336.20" width="10.40" height="2.39" rx="3.20" ry="1.20" fill="#0c0c0c" fill-opacity="0.50" filter="url(#b1)"/>
<rect x="183.78" y="336.02" width="11.44" height="2.76" rx="3.20" ry="1.38" fill="#0c0c0c" fill-opacity="0.75" filter="url(#b1)"/>
</g>
<rect x="137.50" y="331.60" width="60.00" height="11.60" fill="none" stroke="#333" stroke-width="0.7"/>
<g clip-path="url(#cc1_2)">
<clipPath id="cc1_2"><rect x="137.50" y="345.90" width="60.00" height="11.50"/></clipPath>
<rect x="137.50" y="345.90" width="60.00" height="11.50" fill="#f8f8f8"/>
<rect x="140.76" y="350.50" width="12.48" height="2.39" rx="3.20" ry="1.20" fill="#0c0c0c" fill-opacity="0.85" filter="url(#b1)"/>
<rect x="154.76" y="350.32" width="12.48" height="2.76" rx="3.20" ry="1.38" fill="#0c0c0c" fill-opacity="0.90" filter="url(#b1)"/>
<rect x="167.92" y="349.09" width="14.56" height="4.42" rx="3.20" ry="2.21" fill="#0c0c0c" fill-opacity="0.98" filter="url(#b1)"/>
<rect x="183.78" y="350.32" width="11.44" height="2.76" rx="3.20" ry="1.38" fill="#0c0c0c" fill-opacity="0.90" filter="url(#b1)"/>
</g>
<rect x="137.50" y="345.90" width="60.00" height="11.50" fill="none" stroke="#333" stroke-width="0.7"/>
<g clip-path="url(#cc1_3)">
<clipPath id="cc1_3"><rect x="137.50" y="359.80" width="60.00" height="11.50"/></clipPath>
<rect x="137.50" y="359.80" width="60.00" height="11.50" fill="#f8f8f8"/>
<rect x="141.28" y="364.50" width="11.44" height="2.21" rx="3.20" ry="1.10" fill="#0c0c0c" fill-opacity="0.85" filter="url(#b1)"/>
<rect x="155.80" y="364.79" width="10.40" height="2.02" rx="3.20" ry="1.01" fill="#0c0c0c" fill-opacity="0.85" filter="url(#b1)"/>
<rect x="167.92" y="361.81" width="14.56" height="5.98" rx="3.20" ry="2.99" fill="#0c0c0c" fill-opacity="0.98" filter="url(#b1)"/>
<rect x="184.30" y="364.60" width="10.40" height="2.39" rx="3.20" ry="1.20" fill="#0c0c0c" fill-opacity="0.85" filter="url(#b1)"/>
</g>
<rect x="137.50" y="359.80" width="60.00" height="11.50" fill="none" stroke="#333" stroke-width="0.7"/>
<g clip-path="url(#cc1_4)">
<clipPath id="cc1_4"><rect x="137.50" y="373.90" width="60.00" height="11.30"/></clipPath>
<rect x="137.50" y="373.90" width="60.00" height="11.30" fill="#f8f8f8"/>
<rect x="140.24" y="378.10" width="13.52" height="3.59" rx="3.20" ry="1.80" fill="#0c0c0c" fill-opacity="0.98" filter="url(#b1)"/>
<rect x="154.24" y="378.22" width="13.52" height="3.37" rx="3.20" ry="1.68" fill="#0c0c0c" fill-opacity="0.98" filter="url(#b1)"/>
<rect x="168.44" y="378.10" width="13.52" height="3.59" rx="3.20" ry="1.80" fill="#0c0c0c" fill-opacity="0.98" filter="url(#b1)"/>
<rect x="182.74" y="378.10" width="13.52" height="3.59" rx="3.20" ry="1.80" fill="#0c0c0c" fill-opacity="0.98" filter="url(#b1)"/>
</g>
<rect x="137.50" y="373.90" width="60.00" height="11.30" fill="none" stroke="#333" stroke-width="0.7"/>
<text x="231.80" y="281.40" font-size="6.9" text-anchor="middle">Z138</text>
<line x1="204.30" y1="286.50" x2="259.50" y2="286.50" stroke="#231f20" stroke-width="1"/>
<text x="207.80" y="296.30" font-size="6.8" text-anchor="middle">–</text>
<text x="223.00" y="296.30" font-size="6.8" text-anchor="middle">0.5</text>
<text x="238.00" y="296.30" font-size="6.8" text-anchor="middle">–</text>
<text x="253.20" y="296.30" font-size="6.8" text-anchor="middle">0.5</text>
<text x="207.80" y="307.10" font-size="6.8" text-anchor="middle">–</text>
<text x="223.00" y="307.10" font-size="6.8" text-anchor="middle">–</text>
<text x="238.00" y="307.10" font-size="6.8" text-anchor="middle">0.01</text>
<text x="253.20" y="307.10" font-size="6.8" text-anchor="middle">0.01</text>
<g clip-path="url(#cc2_0)">
<clipPath id="cc2_0"><rect x="199.50" y="313.90" width="61.00" height="14.40"/></clipPath>
<rect x="199.50" y="313.90" width="61.00" height="14.40" fill="#f8f8f8"/>
<rect x="201.04" y="315.44" width="13.52" height="3.31" rx="3.20" ry="1.66" fill="#0c0c0c" fill-opacity="0.98" filter="url(#b1)"/>
<rect x="216.24" y="315.35" width="13.52" height="3.50" rx="3.20" ry="1.75" fill="#0c0c0c" fill-opacity="0.98" filter="url(#b1)"/>
<rect x="232.28" y="315.98" width="11.44" height="1.84" rx="3.20" ry="0.92" fill="#0c0c0c" fill-opacity="0.90" filter="url(#b1)"/>
<rect x="247.48" y="315.81" width="11.44" height="2.58" rx="3.20" ry="1.29" fill="#0c0c0c" fill-opacity="0.92" filter="url(#b1)"/>
<rect x="203.12" y="323.46" width="9.36" height="1.29" rx="3.20" ry="0.64" fill="#0c0c0c" fill-opacity="0.12" filter="url(#b1)"/>
<rect x="218.32" y="323.46" width="9.36" height="1.29" rx="3.20" ry="0.64" fill="#0c0c0c" fill-opacity="0.15" filter="url(#b1)"/>
<rect x="233.32" y="323.41" width="9.36" height="1.38" rx="3.20" ry="0.69" fill="#0c0c0c" fill-opacity="0.30" filter="url(#b1)"/>
<rect x="247.48" y="322.80" width="11.44" height="2.21" rx="3.20" ry="1.10" fill="#0c0c0c" fill-opacity="0.95" filter="url(#b1)"/>
</g>
<rect x="199.50" y="313.90" width="61.00" height="14.40" fill="none" stroke="#333" stroke-width="0.7"/>
<g clip-path="url(#cc2_1)">
<clipPath id="cc2_1"><rect x="199.50" y="331.60" width="61.00" height="11.60"/></clipPath>
<rect x="199.50" y="331.60" width="61.00" height="11.60" fill="#f8f8f8"/>
<rect x="203.64" y="336.57" width="8.32" height="1.66" rx="3.20" ry="0.83" fill="#0c0c0c" fill-opacity="0.06" filter="url(#b1)"/>
<rect x="218.84" y="336.57" width="8.32" height="1.66" rx="3.20" ry="0.83" fill="#0c0c0c" fill-opacity="0.10" filter="url(#b1)"/>
<rect x="233.32" y="336.48" width="9.36" height="1.84" rx="3.20" ry="0.92" fill="#0c0c0c" fill-opacity="0.30" filter="url(#b1)"/>
<rect x="246.70" y="335.64" width="13.00" height="3.13" rx="3.20" ry="1.56" fill="#0c0c0c" fill-opacity="0.95" filter="url(#b1)"/>
</g>
<rect x="199.50" y="331.60" width="61.00" height="11.60" fill="none" stroke="#333" stroke-width="0.7"/>
<g clip-path="url(#cc2_2)">
<clipPath id="cc2_2"><rect x="199.50" y="345.90" width="61.00" height="11.50"/></clipPath>
<rect x="199.50" y="345.90" width="61.00" height="11.50" fill="#f8f8f8"/>
<rect x="201.04" y="349.77" width="13.52" height="3.86" rx="3.20" ry="1.93" fill="#0c0c0c" fill-opacity="0.98" filter="url(#b1)"/>
<rect x="216.76" y="350.24" width="12.48" height="3.31" rx="3.20" ry="1.66" fill="#0c0c0c" fill-opacity="0.95" filter="url(#b1)"/>
<rect x="232.80" y="350.90" width="10.40" height="2.39" rx="3.20" ry="1.20" fill="#0c0c0c" fill-opacity="0.90" filter="url(#b1)"/>
<rect x="248.00" y="351.10" width="10.40" height="2.39" rx="3.20" ry="1.20" fill="#0c0c0c" fill-opacity="0.90" filter="url(#b1)"/>
</g>
<rect x="199.50" y="345.90" width="61.00" height="11.50" fill="none" stroke="#333" stroke-width="0.7"/>
<g clip-path="url(#cc2_3)">
<clipPath id="cc2_3"><rect x="199.50" y="359.80" width="61.00" height="11.50"/></clipPath>
<rect x="199.50" y="359.80" width="61.00" height="11.50" fill="#f8f8f8"/>
<rect x="202.08" y="364.22" width="11.44" height="2.76" rx="3.20" ry="1.38" fill="#0c0c0c" fill-opacity="0.95" filter="url(#b1)"/>
<rect x="218.84" y="365.08" width="8.32" height="1.84" rx="3.20" ry="0.92" fill="#0c0c0c" fill-opacity="0.40" filter="url(#b1)"/>
<rect x="231.24" y="363.56" width="13.52" height="3.68" rx="3.20" ry="1.84" fill="#0c0c0c" fill-opacity="0.98" filter="url(#b1)"/>
<rect x="249.56" y="365.26" width="7.28" height="1.47" rx="3.20" ry="0.74" fill="#0c0c0c" fill-opacity="0.15" filter="url(#b1)"/>
</g>
<rect x="199.50" y="359.80" width="61.00" height="11.50" fill="none" stroke="#333" stroke-width="0.7"/>
<g clip-path="url(#cc2_4)">
<clipPath id="cc2_4"><rect x="199.50" y="373.90" width="61.00" height="11.30"/></clipPath>
<rect x="199.50" y="373.90" width="61.00" height="11.30" fill="#f8f8f8"/>
<rect x="202.08" y="378.44" width="11.44" height="2.92" rx="3.20" ry="1.46" fill="#0c0c0c" fill-opacity="0.95" filter="url(#b1)"/>
<rect x="217.80" y="378.44" width="10.40" height="2.92" rx="3.20" ry="1.46" fill="#0c0c0c" fill-opacity="0.95" filter="url(#b1)"/>
<rect x="233.32" y="378.55" width="9.36" height="2.69" rx="3.20" ry="1.35" fill="#0c0c0c" fill-opacity="0.90" filter="url(#b1)"/>
<rect x="248.00" y="378.44" width="10.40" height="2.92" rx="3.20" ry="1.46" fill="#0c0c0c" fill-opacity="0.95" filter="url(#b1)"/>
</g>
<rect x="199.50" y="373.90" width="61.00" height="11.30" fill="none" stroke="#333" stroke-width="0.7"/>
<text x="291.30" y="281.40" font-size="6.9" text-anchor="middle">Mino-Ven-R</text>
<line x1="264.50" y1="286.50" x2="319.30" y2="286.50" stroke="#231f20" stroke-width="1"/>
<text x="269.50" y="296.30" font-size="6.8" text-anchor="middle">–</text>
<text x="284.00" y="296.30" font-size="6.8" text-anchor="middle">5</text>
<text x="298.50" y="296.30" font-size="6.8" text-anchor="middle">–</text>
<text x="314.80" y="296.30" font-size="6.8" text-anchor="middle">5</text>
<text x="269.50" y="307.10" font-size="6.8" text-anchor="middle">–</text>
<text x="284.00" y="307.10" font-size="6.8" text-anchor="middle">–</text>
<text x="298.50" y="307.10" font-size="6.8" text-anchor="middle">0.5</text>
<text x="314.80" y="307.10" font-size="6.8" text-anchor="middle">0.5</text>
<g clip-path="url(#cc3_0)">
<clipPath id="cc3_0"><rect x="262.50" y="313.30" width="60.00" height="14.40"/></clipPath>
<rect x="262.50" y="313.30" width="60.00" height="14.40" fill="#f8f8f8"/>
<rect x="263.26" y="315.12" width="12.48" height="2.76" rx="3.20" ry="1.38" fill="#0c0c0c" fill-opacity="0.98" filter="url(#b1)"/>
<rect x="277.76" y="315.30" width="12.48" height="2.39" rx="3.20" ry="1.20" fill="#0c0c0c" fill-opacity="0.95" filter="url(#b1)"/>
<rect x="291.74" y="314.84" width="13.52" height="3.31" rx="3.20" ry="1.66" fill="#0c0c0c" fill-opacity="0.98" filter="url(#b1)"/>
<rect x="311.16" y="316.06" width="7.28" height="1.29" rx="3.20" ry="0.64" fill="#0c0c0c" fill-opacity="0.55" filter="url(#b1)"/>
<rect x="293.82" y="322.81" width="9.36" height="1.38" rx="3.20" ry="0.69" fill="#0c0c0c" fill-opacity="0.35" filter="url(#b1)"/>
<rect x="309.08" y="321.90" width="11.44" height="2.39" rx="3.20" ry="1.20" fill="#0c0c0c" fill-opacity="0.95" filter="url(#b1)"/>
</g>
<rect x="262.50" y="313.30" width="60.00" height="14.40" fill="none" stroke="#333" stroke-width="0.7"/>
<g clip-path="url(#cc3_1)">
<clipPath id="cc3_1"><rect x="262.50" y="331.00" width="60.00" height="11.60"/></clipPath>
<rect x="262.50" y="331.00" width="60.00" height="11.60" fill="#f8f8f8"/>
<rect x="279.84" y="335.97" width="8.32" height="1.66" rx="3.20" ry="0.83" fill="#0c0c0c" fill-opacity="0.10" filter="url(#b1)"/>
<rect x="293.30" y="335.51" width="10.40" height="2.58" rx="3.20" ry="1.29" fill="#0c0c0c" fill-opacity="0.60" filter="url(#b1)"/>
<rect x="308.04" y="334.76" width="13.52" height="3.68" rx="3.20" ry="1.84" fill="#0c0c0c" fill-opacity="0.97" filter="url(#b1)"/>
</g>
<rect x="262.50" y="331.00" width="60.00" height="11.60" fill="none" stroke="#333" stroke-width="0.7"/>
<g clip-path="url(#cc3_2)">
<clipPath id="cc3_2"><rect x="262.50" y="345.30" width="60.00" height="11.50"/></clipPath>
<rect x="262.50" y="345.30" width="60.00" height="11.50" fill="#f8f8f8"/>
<rect x="263.26" y="349.54" width="12.48" height="3.13" rx="3.20" ry="1.56" fill="#0c0c0c" fill-opacity="0.97" filter="url(#b1)"/>
<rect x="277.24" y="348.68" width="13.52" height="4.05" rx="3.20" ry="2.02" fill="#0c0c0c" fill-opacity="0.98" filter="url(#b1)"/>
<rect x="292.26" y="349.63" width="12.48" height="2.94" rx="3.20" ry="1.47" fill="#0c0c0c" fill-opacity="0.97" filter="url(#b1)"/>
<rect x="311.68" y="350.66" width="6.24" height="1.29" rx="3.12" ry="0.64" fill="#0c0c0c" fill-opacity="0.10" filter="url(#b1)"/>
</g>
<rect x="262.50" y="345.30" width="60.00" height="11.50" fill="none" stroke="#333" stroke-width="0.7"/>
<g clip-path="url(#cc3_3)">
<clipPath id="cc3_3"><rect x="262.50" y="359.20" width="60.00" height="11.50"/></clipPath>
<rect x="262.50" y="359.20" width="60.00" height="11.50" fill="#f8f8f8"/>
<rect x="262.74" y="361.22" width="13.52" height="5.15" rx="3.20" ry="2.58" fill="#0c0c0c" fill-opacity="0.98" filter="url(#b1)"/>
<rect x="278.80" y="364.20" width="10.40" height="2.39" rx="3.20" ry="1.20" fill="#0c0c0c" fill-opacity="0.90" filter="url(#b1)"/>
<rect x="292.26" y="362.96" width="12.48" height="3.68" rx="3.20" ry="1.84" fill="#0c0c0c" fill-opacity="0.97" filter="url(#b1)"/>
</g>
<rect x="262.50" y="359.20" width="60.00" height="11.50" fill="none" stroke="#333" stroke-width="0.7"/>
<g clip-path="url(#cc3_4)">
<clipPath id="cc3_4"><rect x="262.50" y="373.30" width="60.00" height="11.30"/></clipPath>
<rect x="262.50" y="373.30" width="60.00" height="11.30" fill="#f8f8f8"/>
<rect x="261.44" y="376.16" width="16.12" height="6.29" rx="3.20" ry="3.14" fill="#0c0c0c" fill-opacity="0.99" filter="url(#b1)"/>
<rect x="275.94" y="376.27" width="16.12" height="6.06" rx="3.20" ry="3.03" fill="#0c0c0c" fill-opacity="0.99" filter="url(#b1)"/>
<rect x="290.44" y="376.16" width="16.12" height="6.29" rx="3.20" ry="3.14" fill="#0c0c0c" fill-opacity="0.99" filter="url(#b1)"/>
<rect x="308.04" y="377.26" width="13.52" height="4.49" rx="3.20" ry="2.24" fill="#0c0c0c" fill-opacity="0.98" filter="url(#b1)"/>
</g>
<rect x="262.50" y="373.30" width="60.00" height="11.30" fill="none" stroke="#333" stroke-width="0.7"/>
<text x="340.00" y="283.60" font-size="12.2" font-weight="bold" fill="#000" stroke="#000" stroke-width="0.3">D</text>
<line x1="416.10" y1="357.22" x2="416.10" y2="356.03" stroke="#154c8a" stroke-width="0.7"/>
<line x1="414.30" y1="356.03" x2="417.90" y2="356.03" stroke="#154c8a" stroke-width="0.7"/>
<line x1="430.60" y1="355.64" x2="430.60" y2="354.05" stroke="#154c8a" stroke-width="0.7"/>
<line x1="428.80" y1="354.05" x2="432.40" y2="354.05" stroke="#154c8a" stroke-width="0.7"/>
<line x1="442.20" y1="354.45" x2="442.20" y2="352.46" stroke="#154c8a" stroke-width="0.7"/>
<line x1="440.40" y1="352.46" x2="444.00" y2="352.46" stroke="#154c8a" stroke-width="0.7"/>
<line x1="450.90" y1="351.87" x2="450.90" y2="348.70" stroke="#154c8a" stroke-width="0.7"/>
<line x1="449.10" y1="348.70" x2="452.70" y2="348.70" stroke="#154c8a" stroke-width="0.7"/>
<line x1="462.50" y1="346.12" x2="462.50" y2="342.55" stroke="#154c8a" stroke-width="0.7"/>
<line x1="460.70" y1="342.55" x2="464.30" y2="342.55" stroke="#154c8a" stroke-width="0.7"/>
<line x1="465.40" y1="340.96" x2="465.40" y2="336.60" stroke="#154c8a" stroke-width="0.7"/>
<line x1="463.60" y1="336.60" x2="467.20" y2="336.60" stroke="#154c8a" stroke-width="0.7"/>
<line x1="471.20" y1="333.23" x2="471.20" y2="326.49" stroke="#154c8a" stroke-width="0.7"/>
<line x1="469.40" y1="326.49" x2="473.00" y2="326.49" stroke="#154c8a" stroke-width="0.7"/>
<line x1="482.80" y1="303.30" x2="482.80" y2="286.64" stroke="#154c8a" stroke-width="0.7"/>
<line x1="481.00" y1="286.64" x2="484.60" y2="286.64" stroke="#154c8a" stroke-width="0.7"/>
<polyline points="392.90,359.60 416.10,357.22 430.60,355.64 442.20,354.45 450.90,351.87 462.50,346.12 465.40,340.96 471.20,333.23 482.80,303.30" fill="none" stroke="#154c8a" stroke-width="1.1" stroke-linejoin="round"/>
<circle cx="416.10" cy="357.22" r="1.60" fill="#154c8a"/>
<circle cx="430.60" cy="355.64" r="1.60" fill="#154c8a"/>
<circle cx="442.20" cy="354.45" r="1.60" fill="#154c8a"/>
<circle cx="450.90" cy="351.87" r="1.60" fill="#154c8a"/>
<circle cx="462.50" cy="346.12" r="1.60" fill="#154c8a"/>
<circle cx="465.40" cy="340.96" r="1.60" fill="#154c8a"/>
<circle cx="471.20" cy="333.23" r="1.60" fill="#154c8a"/>
<circle cx="482.80" cy="303.30" r="1.60" fill="#154c8a"/>
<line x1="416.10" y1="357.22" x2="416.10" y2="356.43" stroke="#3aae41" stroke-width="0.7"/>
<line x1="414.30" y1="356.43" x2="417.90" y2="356.43" stroke="#3aae41" stroke-width="0.7"/>
<line x1="430.60" y1="356.03" x2="430.60" y2="354.84" stroke="#3aae41" stroke-width="0.7"/>
<line x1="428.80" y1="354.84" x2="432.40" y2="354.84" stroke="#3aae41" stroke-width="0.7"/>
<line x1="442.20" y1="354.84" x2="442.20" y2="353.65" stroke="#3aae41" stroke-width="0.7"/>
<line x1="440.40" y1="353.65" x2="444.00" y2="353.65" stroke="#3aae41" stroke-width="0.7"/>
<line x1="450.90" y1="352.46" x2="450.90" y2="350.88" stroke="#3aae41" stroke-width="0.7"/>
<line x1="449.10" y1="350.88" x2="452.70" y2="350.88" stroke="#3aae41" stroke-width="0.7"/>
<line x1="462.50" y1="347.31" x2="462.50" y2="345.33" stroke="#3aae41" stroke-width="0.7"/>
<line x1="460.70" y1="345.33" x2="464.30" y2="345.33" stroke="#3aae41" stroke-width="0.7"/>
<line x1="465.40" y1="342.95" x2="465.40" y2="340.57" stroke="#3aae41" stroke-width="0.7"/>
<line x1="463.60" y1="340.57" x2="467.20" y2="340.57" stroke="#3aae41" stroke-width="0.7"/>
<line x1="471.20" y1="337.99" x2="471.20" y2="335.22" stroke="#3aae41" stroke-width="0.7"/>
<line x1="469.40" y1="335.22" x2="473.00" y2="335.22" stroke="#3aae41" stroke-width="0.7"/>
<line x1="482.80" y1="316.38" x2="482.80" y2="312.81" stroke="#3aae41" stroke-width="0.7"/>
<line x1="481.00" y1="312.81" x2="484.60" y2="312.81" stroke="#3aae41" stroke-width="0.7"/>
<polyline points="392.90,359.60 416.10,357.22 430.60,356.03 442.20,354.84 450.90,352.46 462.50,347.31 465.40,342.95 471.20,337.99 482.80,316.38" fill="none" stroke="#3aae41" stroke-width="1.1" stroke-linejoin="round"/>
<path d="M416.10 355.30 L417.86 358.66 L414.34 358.66 Z" fill="#3aae41"/>
<path d="M430.60 354.11 L432.36 357.47 L428.84 357.47 Z" fill="#3aae41"/>
<path d="M442.20 352.92 L443.96 356.28 L440.44 356.28 Z" fill="#3aae41"/>
<path d="M450.90 350.54 L452.66 353.90 L449.14 353.90 Z" fill="#3aae41"/>
<path d="M462.50 345.39 L464.26 348.75 L460.74 348.75 Z" fill="#3aae41"/>
<path d="M465.40 341.03 L467.16 344.39 L463.64 344.39 Z" fill="#3aae41"/>
<path d="M471.20 336.07 L472.96 339.43 L469.44 339.43 Z" fill="#3aae41"/>
<path d="M482.80 314.46 L484.56 317.82 L481.04 317.82 Z" fill="#3aae41"/>
<line x1="416.10" y1="357.62" x2="416.10" y2="356.82" stroke="#cc0c30" stroke-width="0.7"/>
<line x1="414.30" y1="356.82" x2="417.90" y2="356.82" stroke="#cc0c30" stroke-width="0.7"/>
<line x1="430.60" y1="357.22" x2="430.60" y2="356.43" stroke="#cc0c30" stroke-width="0.7"/>
<line x1="428.80" y1="356.43" x2="432.40" y2="356.43" stroke="#cc0c30" stroke-width="0.7"/>
<line x1="442.20" y1="356.82" x2="442.20" y2="355.83" stroke="#cc0c30" stroke-width="0.7"/>
<line x1="440.40" y1="355.83" x2="444.00" y2="355.83" stroke="#cc0c30" stroke-width="0.7"/>
<line x1="450.90" y1="355.64" x2="450.90" y2="354.45" stroke="#cc0c30" stroke-width="0.7"/>
<line x1="449.10" y1="354.45" x2="452.70" y2="354.45" stroke="#cc0c30" stroke-width="0.7"/>
<line x1="462.50" y1="352.26" x2="462.50" y2="350.48" stroke="#cc0c30" stroke-width="0.7"/>
<line x1="460.70" y1="350.48" x2="464.30" y2="350.48" stroke="#cc0c30" stroke-width="0.7"/>
<line x1="465.40" y1="349.69" x2="465.40" y2="347.51" stroke="#cc0c30" stroke-width="0.7"/>
<line x1="463.60" y1="347.51" x2="467.20" y2="347.51" stroke="#cc0c30" stroke-width="0.7"/>
<line x1="471.20" y1="346.12" x2="471.20" y2="343.34" stroke="#cc0c30" stroke-width="0.7"/>
<line x1="469.40" y1="343.34" x2="473.00" y2="343.34" stroke="#cc0c30" stroke-width="0.7"/>
<line x1="482.80" y1="334.82" x2="482.80" y2="327.29" stroke="#cc0c30" stroke-width="0.7"/>
<line x1="481.00" y1="327.29" x2="484.60" y2="327.29" stroke="#cc0c30" stroke-width="0.7"/>
<polyline points="392.90,359.60 416.10,357.62 430.60,357.22 442.20,356.82 450.90,355.64 462.50,352.26 465.40,349.69 471.20,346.12 482.80,334.82" fill="none" stroke="#cc0c30" stroke-width="1.1" stroke-linejoin="round"/>
<rect x="414.50" y="356.02" width="3.20" height="3.20" fill="#cc0c30"/>
<rect x="429.00" y="355.62" width="3.20" height="3.20" fill="#cc0c30"/>
<rect x="440.60" y="355.22" width="3.20" height="3.20" fill="#cc0c30"/>
<rect x="449.30" y="354.04" width="3.20" height="3.20" fill="#cc0c30"/>
<rect x="460.90" y="350.66" width="3.20" height="3.20" fill="#cc0c30"/>
<rect x="463.80" y="348.09" width="3.20" height="3.20" fill="#cc0c30"/>
<rect x="469.60" y="344.52" width="3.20" height="3.20" fill="#cc0c30"/>
<rect x="481.20" y="333.22" width="3.20" height="3.20" fill="#cc0c30"/>
<line x1="416.10" y1="358.01" x2="416.10" y2="357.42" stroke="#55257b" stroke-width="0.7"/>
<line x1="414.30" y1="357.42" x2="417.90" y2="357.42" stroke="#55257b" stroke-width="0.7"/>
<line x1="430.60" y1="357.62" x2="430.60" y2="357.02" stroke="#55257b" stroke-width="0.7"/>
<line x1="428.80" y1="357.02" x2="432.40" y2="357.02" stroke="#55257b" stroke-width="0.7"/>
<line x1="442.20" y1="357.62" x2="442.20" y2="357.02" stroke="#55257b" stroke-width="0.7"/>
<line x1="440.40" y1="357.02" x2="444.00" y2="357.02" stroke="#55257b" stroke-width="0.7"/>
<line x1="450.90" y1="357.22" x2="450.90" y2="356.43" stroke="#55257b" stroke-width="0.7"/>
<line x1="449.10" y1="356.43" x2="452.70" y2="356.43" stroke="#55257b" stroke-width="0.7"/>
<line x1="462.50" y1="355.64" x2="462.50" y2="354.64" stroke="#55257b" stroke-width="0.7"/>
<line x1="460.70" y1="354.64" x2="464.30" y2="354.64" stroke="#55257b" stroke-width="0.7"/>
<line x1="465.40" y1="354.45" x2="465.40" y2="353.26" stroke="#55257b" stroke-width="0.7"/>
<line x1="463.60" y1="353.26" x2="467.20" y2="353.26" stroke="#55257b" stroke-width="0.7"/>
<line x1="471.20" y1="352.26" x2="471.20" y2="351.08" stroke="#55257b" stroke-width="0.7"/>
<line x1="469.40" y1="351.08" x2="473.00" y2="351.08" stroke="#55257b" stroke-width="0.7"/>
<line x1="482.80" y1="346.52" x2="482.80" y2="343.34" stroke="#55257b" stroke-width="0.7"/>
<line x1="481.00" y1="343.34" x2="484.60" y2="343.34" stroke="#55257b" stroke-width="0.7"/>
<polyline points="392.90,359.60 416.10,358.01 430.60,357.62 442.20,357.62 450.90,357.22 462.50,355.64 465.40,354.45 471.20,352.26 482.80,346.52" fill="none" stroke="#55257b" stroke-width="1.1" stroke-linejoin="round"/>
<path d="M416.10 359.93 L417.86 356.57 L414.34 356.57 Z" fill="#55257b"/>
<path d="M430.60 359.54 L432.36 356.18 L428.84 356.18 Z" fill="#55257b"/>
<path d="M442.20 359.54 L443.96 356.18 L440.44 356.18 Z" fill="#55257b"/>
<path d="M450.90 359.14 L452.66 355.78 L449.14 355.78 Z" fill="#55257b"/>
<path d="M462.50 357.56 L464.26 354.20 L460.74 354.20 Z" fill="#55257b"/>
<path d="M465.40 356.37 L467.16 353.01 L463.64 353.01 Z" fill="#55257b"/>
<path d="M471.20 354.18 L472.96 350.82 L469.44 350.82 Z" fill="#55257b"/>
<path d="M482.80 348.44 L484.56 345.08 L481.04 345.08 Z" fill="#55257b"/>
<line x1="392.90" y1="278.30" x2="392.90" y2="360.15" stroke="#231f20" stroke-width="1.1"/>
<line x1="390.00" y1="359.60" x2="511.40" y2="359.60" stroke="#231f20" stroke-width="1.1"/>
<line x1="390.00" y1="359.60" x2="392.90" y2="359.60" stroke="#231f20" stroke-width="0.95"/>
<text x="386.00" y="362.20" font-size="7.3" text-anchor="end">0</text>
<line x1="390.00" y1="339.78" x2="392.90" y2="339.78" stroke="#231f20" stroke-width="0.95"/>
<text x="386.00" y="342.38" font-size="7.3" text-anchor="end">500</text>
<line x1="390.00" y1="319.95" x2="392.90" y2="319.95" stroke="#231f20" stroke-width="0.95"/>
<text x="386.00" y="322.55" font-size="7.3" text-anchor="end">1000</text>
<line x1="390.00" y1="300.12" x2="392.90" y2="300.12" stroke="#231f20" stroke-width="0.95"/>
<text x="386.00" y="302.73" font-size="7.3" text-anchor="end">1500</text>
<line x1="390.00" y1="280.30" x2="392.90" y2="280.30" stroke="#231f20" stroke-width="0.95"/>
<text x="386.00" y="282.90" font-size="7.3" text-anchor="end">2000</text>
<line x1="392.90" y1="359.60" x2="392.90" y2="362.80" stroke="#231f20" stroke-width="0.95"/>
<text x="392.90" y="372.60" font-size="7.3" text-anchor="middle">0</text>
<line x1="421.90" y1="359.60" x2="421.90" y2="362.80" stroke="#231f20" stroke-width="0.95"/>
<text x="421.90" y="372.60" font-size="7.3" text-anchor="middle">10</text>
<line x1="450.90" y1="359.60" x2="450.90" y2="362.80" stroke="#231f20" stroke-width="0.95"/>
<text x="450.90" y="372.60" font-size="7.3" text-anchor="middle">20</text>
<line x1="479.90" y1="359.60" x2="479.90" y2="362.80" stroke="#231f20" stroke-width="0.95"/>
<text x="479.90" y="372.60" font-size="7.3" text-anchor="middle">30</text>
<line x1="508.90" y1="359.60" x2="508.90" y2="362.80" stroke="#231f20" stroke-width="0.95"/>
<text x="508.90" y="372.60" font-size="7.3" text-anchor="middle">40</text>
<text x="0.00" y="0.00" font-size="8.8" text-anchor="middle" transform="translate(361.80 318.80) rotate(-90) scale(0.76 1)" stroke="#231f20" stroke-width="0.22">Tumor volume (mm<tspan baseline-shift="super" font-size="5.5">3</tspan>)</text>
<text x="0.00" y="0.00" font-size="8.8" text-anchor="middle" transform="translate(452.00 385.00) scale(0.73 1)" stroke="#231f20" stroke-width="0.22">Days post inoculation</text>
<line x1="396.20" y1="284.00" x2="403.80" y2="284.00" stroke="#154c8a" stroke-width="1"/>
<circle cx="400.00" cy="284.00" r="1.60" fill="#154c8a"/>
<text x="407.50" y="286.30" font-size="6.4">Vehicle</text>
<line x1="396.20" y1="294.50" x2="403.80" y2="294.50" stroke="#cc0c30" stroke-width="1"/>
<rect x="398.40" y="292.90" width="3.20" height="3.20" fill="#cc0c30"/>
<text x="407.50" y="296.80" font-size="6.4">Abemaciclib (25mg/kg)</text>
<line x1="396.20" y1="305.00" x2="403.80" y2="305.00" stroke="#3aae41" stroke-width="1"/>
<path d="M400.00 303.08 L401.76 306.44 L398.24 306.44 Z" fill="#3aae41"/>
<text x="407.50" y="307.30" font-size="6.4">Venetoclax (5mg/kg)</text>
<line x1="396.20" y1="315.30" x2="403.80" y2="315.30" stroke="#55257b" stroke-width="1"/>
<path d="M400.00 317.22 L401.76 313.86 L398.24 313.86 Z" fill="#55257b"/>
<text x="407.50" y="317.60" font-size="6.4">Combo</text>
<line x1="490.20" y1="334.00" x2="490.20" y2="347.60" stroke="#231f20" stroke-width="1.15"/>
<text x="0.00" y="0.00" font-size="6.3" text-anchor="middle" transform="translate(497.80 341.20) rotate(-90)"><tspan font-style="italic">P</tspan> &lt; .0001</text>
<line x1="501.20" y1="315.50" x2="501.20" y2="347.60" stroke="#231f20" stroke-width="1.15"/>
<text x="0.00" y="0.00" font-size="6.3" text-anchor="middle" transform="translate(509.20 332.00) rotate(-90)"><tspan font-style="italic">P</tspan> &lt; .0001</text>
<text x="8.00" y="407.90" font-size="12.2" font-weight="bold" fill="#000" stroke="#000" stroke-width="0.3">E</text>
<line x1="110.50" y1="409.00" x2="110.50" y2="475.30" stroke="#eeb4bf" stroke-width="0.7" stroke-dasharray="0.9 1.3"/>
<line x1="124.40" y1="409.00" x2="124.40" y2="475.30" stroke="#eeb4bf" stroke-width="0.7" stroke-dasharray="0.9 1.3"/>
<line x1="48.00" y1="468.60" x2="146.00" y2="468.60" stroke="#c4c4c4" stroke-width="0.7" stroke-dasharray="0.9 1.3"/>
<polygon points="98.59,475.30 100.00,472.32 103.18,469.00 105.30,467.68 113.42,467.68 115.53,472.65 117.30,475.30 118.85,472.65 120.41,467.68 126.48,467.68 128.60,470.99 130.36,475.30" fill="#4b5763"/>
<polygon points="105.30,467.68 106.71,464.36 108.47,460.38 109.68,458.06 110.59,459.72 112.00,463.70 113.42,467.68" fill="#cf1f3d"/>
<polygon points="120.41,467.68 121.39,463.03 122.67,458.39 123.51,460.71 124.71,464.69 125.91,467.68" fill="#cf1f3d"/>
<circle cx="112.92" cy="470.34" r="0.7" fill="#4b5763"/>
<circle cx="119.70" cy="474.86" r="0.7" fill="#4b5763"/>
<circle cx="106.97" cy="474.86" r="0.7" fill="#4b5763"/>
<circle cx="113.30" cy="471.43" r="0.7" fill="#4b5763"/>
<circle cx="124.33" cy="474.77" r="0.7" fill="#4b5763"/>
<circle cx="117.38" cy="475.28" r="0.7" fill="#4b5763"/>
<circle cx="100.48" cy="474.36" r="0.7" fill="#4b5763"/>
<circle cx="122.73" cy="473.60" r="0.7" fill="#4b5763"/>
<circle cx="100.26" cy="470.90" r="0.7" fill="#4b5763"/>
<circle cx="99.79" cy="472.28" r="0.7" fill="#4b5763"/>
<circle cx="117.88" cy="474.04" r="0.7" fill="#4b5763"/>
<circle cx="114.78" cy="473.82" r="0.7" fill="#4b5763"/>
<circle cx="117.91" cy="474.83" r="0.7" fill="#4b5763"/>
<circle cx="118.66" cy="472.48" r="0.7" fill="#4b5763"/>
<circle cx="120.09" cy="470.77" r="0.7" fill="#4b5763"/>
<circle cx="125.75" cy="472.46" r="0.7" fill="#4b5763"/>
<circle cx="112.15" cy="474.85" r="0.7" fill="#4b5763"/>
<circle cx="114.24" cy="474.03" r="0.7" fill="#4b5763"/>
<circle cx="111.23" cy="472.90" r="0.7" fill="#4b5763"/>
<circle cx="106.74" cy="470.84" r="0.7" fill="#4b5763"/>
<circle cx="108.05" cy="469.24" r="0.7" fill="#4b5763"/>
<circle cx="117.34" cy="475.23" r="0.7" fill="#4b5763"/>
<circle cx="115.61" cy="473.51" r="0.7" fill="#4b5763"/>
<circle cx="126.71" cy="468.63" r="0.7" fill="#4b5763"/>
<circle cx="114.25" cy="469.25" r="0.7" fill="#4b5763"/>
<circle cx="107.97" cy="474.40" r="0.7" fill="#4b5763"/>
<circle cx="102.26" cy="474.14" r="0.7" fill="#4b5763"/>
<circle cx="122.49" cy="471.57" r="0.7" fill="#4b5763"/>
<circle cx="127.90" cy="469.47" r="0.7" fill="#4b5763"/>
<circle cx="118.38" cy="473.73" r="0.7" fill="#4b5763"/>
<circle cx="120.61" cy="470.00" r="0.7" fill="#4b5763"/>
<circle cx="109.78" cy="470.77" r="0.7" fill="#4b5763"/>
<circle cx="106.64" cy="468.90" r="0.7" fill="#4b5763"/>
<circle cx="110.49" cy="468.10" r="0.7" fill="#4b5763"/>
<circle cx="102.32" cy="474.84" r="0.7" fill="#4b5763"/>
<circle cx="117.29" cy="475.29" r="0.7" fill="#4b5763"/>
<circle cx="98.42" cy="469.03" r="0.7" fill="#4b5763"/>
<circle cx="113.30" cy="470.20" r="0.7" fill="#4b5763"/>
<circle cx="123.69" cy="475.13" r="0.7" fill="#4b5763"/>
<circle cx="109.98" cy="474.41" r="0.7" fill="#4b5763"/>
<circle cx="116.46" cy="475.20" r="0.7" fill="#4b5763"/>
<circle cx="115.71" cy="474.51" r="0.7" fill="#4b5763"/>
<circle cx="110.57" cy="472.32" r="0.7" fill="#4b5763"/>
<circle cx="117.68" cy="474.87" r="0.7" fill="#4b5763"/>
<circle cx="112.57" cy="471.11" r="0.7" fill="#4b5763"/>
<circle cx="127.32" cy="468.71" r="0.7" fill="#4b5763"/>
<circle cx="104.26" cy="473.18" r="0.7" fill="#4b5763"/>
<circle cx="108.01" cy="468.56" r="0.7" fill="#4b5763"/>
<circle cx="119.40" cy="470.19" r="0.7" fill="#4b5763"/>
<circle cx="118.39" cy="474.66" r="0.7" fill="#4b5763"/>
<circle cx="119.65" cy="473.91" r="0.7" fill="#4b5763"/>
<circle cx="103.46" cy="473.30" r="0.7" fill="#4b5763"/>
<circle cx="116.29" cy="475.29" r="0.7" fill="#4b5763"/>
<circle cx="107.78" cy="470.98" r="0.7" fill="#4b5763"/>
<circle cx="119.31" cy="470.44" r="0.7" fill="#4b5763"/>
<circle cx="111.30" cy="470.59" r="0.7" fill="#4b5763"/>
<circle cx="105.29" cy="470.14" r="0.7" fill="#4b5763"/>
<circle cx="121.48" cy="469.35" r="0.7" fill="#4b5763"/>
<circle cx="126.31" cy="472.31" r="0.7" fill="#4b5763"/>
<circle cx="103.99" cy="472.26" r="0.7" fill="#4b5763"/>
<circle cx="125.14" cy="474.83" r="0.7" fill="#4b5763"/>
<circle cx="122.76" cy="474.79" r="0.7" fill="#4b5763"/>
<circle cx="116.53" cy="474.77" r="0.7" fill="#4b5763"/>
<circle cx="120.26" cy="474.91" r="0.7" fill="#4b5763"/>
<circle cx="120.24" cy="474.54" r="0.7" fill="#4b5763"/>
<circle cx="115.19" cy="473.75" r="0.7" fill="#4b5763"/>
<circle cx="118.05" cy="474.13" r="0.7" fill="#4b5763"/>
<circle cx="119.19" cy="473.64" r="0.7" fill="#4b5763"/>
<circle cx="120.59" cy="472.52" r="0.7" fill="#4b5763"/>
<circle cx="127.48" cy="467.73" r="0.7" fill="#4b5763"/>
<circle cx="127.15" cy="471.75" r="0.7" fill="#4b5763"/>
<circle cx="111.46" cy="474.52" r="0.7" fill="#4b5763"/>
<circle cx="115.56" cy="474.10" r="0.7" fill="#4b5763"/>
<circle cx="113.65" cy="474.11" r="0.7" fill="#4b5763"/>
<circle cx="131.69" cy="475.12" r="0.7" fill="#4b5763"/>
<circle cx="125.49" cy="474.18" r="0.7" fill="#4b5763"/>
<circle cx="111.90" cy="471.16" r="0.7" fill="#4b5763"/>
<circle cx="125.84" cy="467.84" r="0.7" fill="#4b5763"/>
<circle cx="117.01" cy="474.80" r="0.7" fill="#4b5763"/>
<circle cx="112.91" cy="472.50" r="0.7" fill="#4b5763"/>
<circle cx="108.71" cy="474.03" r="0.7" fill="#4b5763"/>
<circle cx="116.68" cy="474.32" r="0.7" fill="#4b5763"/>
<circle cx="104.40" cy="472.79" r="0.7" fill="#4b5763"/>
<circle cx="117.90" cy="473.80" r="0.7" fill="#4b5763"/>
<circle cx="131.07" cy="468.80" r="0.7" fill="#4b5763"/>
<circle cx="120.81" cy="469.66" r="0.7" fill="#4b5763"/>
<circle cx="99.88" cy="473.57" r="0.7" fill="#4b5763"/>
<circle cx="106.96" cy="475.08" r="0.7" fill="#4b5763"/>
<circle cx="114.27" cy="475.13" r="0.7" fill="#4b5763"/>
<circle cx="113.93" cy="470.58" r="0.7" fill="#4b5763"/>
<circle cx="121.90" cy="468.01" r="0.7" fill="#4b5763"/>
<circle cx="121.94" cy="467.77" r="0.7" fill="#4b5763"/>
<circle cx="123.25" cy="473.62" r="0.7" fill="#4b5763"/>
<circle cx="112.84" cy="473.57" r="0.7" fill="#4b5763"/>
<circle cx="117.14" cy="475.10" r="0.7" fill="#4b5763"/>
<circle cx="120.82" cy="468.44" r="0.7" fill="#4b5763"/>
<circle cx="120.61" cy="470.32" r="0.7" fill="#4b5763"/>
<circle cx="106.68" cy="469.20" r="0.7" fill="#4b5763"/>
<circle cx="126.36" cy="468.36" r="0.7" fill="#4b5763"/>
<circle cx="121.77" cy="469.34" r="0.7" fill="#4b5763"/>
<circle cx="115.19" cy="474.54" r="0.7" fill="#4b5763"/>
<circle cx="105.12" cy="469.28" r="0.7" fill="#4b5763"/>
<circle cx="107.33" cy="467.89" r="0.7" fill="#4b5763"/>
<circle cx="128.95" cy="472.28" r="0.7" fill="#4b5763"/>
<circle cx="97.78" cy="469.77" r="0.7" fill="#4b5763"/>
<circle cx="127.60" cy="474.00" r="0.7" fill="#4b5763"/>
<circle cx="118.71" cy="472.07" r="0.7" fill="#4b5763"/>
<circle cx="118.80" cy="472.23" r="0.7" fill="#4b5763"/>
<circle cx="125.21" cy="467.83" r="0.7" fill="#4b5763"/>
<circle cx="128.31" cy="470.29" r="0.7" fill="#4b5763"/>
<circle cx="108.62" cy="474.30" r="0.7" fill="#4b5763"/>
<circle cx="124.17" cy="475.19" r="0.7" fill="#4b5763"/>
<circle cx="127.75" cy="471.29" r="0.7" fill="#4b5763"/>
<circle cx="112.86" cy="468.18" r="0.7" fill="#4b5763"/>
<circle cx="98.82" cy="469.00" r="0.7" fill="#4b5763"/>
<circle cx="122.41" cy="473.69" r="0.7" fill="#4b5763"/>
<circle cx="115.10" cy="474.23" r="0.7" fill="#4b5763"/>
<circle cx="122.53" cy="470.83" r="0.7" fill="#4b5763"/>
<circle cx="114.64" cy="474.60" r="0.7" fill="#4b5763"/>
<circle cx="124.36" cy="468.36" r="0.7" fill="#4b5763"/>
<circle cx="109.25" cy="470.85" r="0.7" fill="#4b5763"/>
<circle cx="122.95" cy="468.41" r="0.7" fill="#4b5763"/>
<circle cx="97.86" cy="471.48" r="0.7" fill="#4b5763"/>
<circle cx="124.62" cy="471.25" r="0.7" fill="#4b5763"/>
<circle cx="113.49" cy="471.94" r="0.7" fill="#4b5763"/>
<circle cx="114.93" cy="474.42" r="0.7" fill="#4b5763"/>
<circle cx="130.99" cy="473.99" r="0.7" fill="#4b5763"/>
<circle cx="115.57" cy="473.65" r="0.7" fill="#4b5763"/>
<circle cx="113.44" cy="472.81" r="0.7" fill="#4b5763"/>
<circle cx="104.07" cy="471.35" r="0.7" fill="#4b5763"/>
<circle cx="100.65" cy="474.49" r="0.7" fill="#4b5763"/>
<circle cx="109.91" cy="471.03" r="0.7" fill="#4b5763"/>
<circle cx="115.25" cy="472.10" r="0.7" fill="#4b5763"/>
<circle cx="122.29" cy="471.43" r="0.7" fill="#4b5763"/>
<circle cx="101.38" cy="468.34" r="0.7" fill="#4b5763"/>
<circle cx="109.54" cy="471.92" r="0.7" fill="#4b5763"/>
<circle cx="107.22" cy="471.40" r="0.7" fill="#4b5763"/>
<circle cx="108.38" cy="470.02" r="0.7" fill="#4b5763"/>
<circle cx="104.77" cy="471.66" r="0.7" fill="#4b5763"/>
<circle cx="118.40" cy="472.68" r="0.7" fill="#4b5763"/>
<circle cx="109.52" cy="468.12" r="0.7" fill="#4b5763"/>
<circle cx="98.04" cy="473.32" r="0.7" fill="#4b5763"/>
<circle cx="107.46" cy="468.90" r="0.7" fill="#4b5763"/>
<circle cx="118.11" cy="474.39" r="0.7" fill="#4b5763"/>
<circle cx="118.59" cy="475.06" r="0.7" fill="#4b5763"/>
<circle cx="115.38" cy="472.71" r="0.7" fill="#4b5763"/>
<circle cx="118.62" cy="472.69" r="0.7" fill="#4b5763"/>
<circle cx="119.26" cy="471.74" r="0.7" fill="#4b5763"/>
<circle cx="112.10" cy="470.27" r="0.7" fill="#4b5763"/>
<circle cx="126.57" cy="467.92" r="0.7" fill="#4b5763"/>
<circle cx="129.48" cy="473.63" r="0.7" fill="#4b5763"/>
<circle cx="123.68" cy="471.58" r="0.7" fill="#4b5763"/>
<circle cx="112.57" cy="467.75" r="0.7" fill="#4b5763"/>
<circle cx="117.78" cy="474.78" r="0.7" fill="#4b5763"/>
<circle cx="110.63" cy="471.37" r="0.7" fill="#4b5763"/>
<circle cx="112.09" cy="472.87" r="0.7" fill="#4b5763"/>
<circle cx="120.12" cy="470.14" r="0.7" fill="#4b5763"/>
<circle cx="126.31" cy="471.94" r="0.7" fill="#4b5763"/>
<circle cx="116.55" cy="475.27" r="0.7" fill="#4b5763"/>
<circle cx="109.13" cy="471.39" r="0.7" fill="#4b5763"/>
<circle cx="125.94" cy="474.81" r="0.7" fill="#4b5763"/>
<circle cx="130.67" cy="467.89" r="0.7" fill="#4b5763"/>
<circle cx="113.73" cy="474.54" r="0.7" fill="#4b5763"/>
<circle cx="114.94" cy="471.58" r="0.7" fill="#4b5763"/>
<circle cx="117.68" cy="475.04" r="0.7" fill="#4b5763"/>
<circle cx="121.53" cy="468.35" r="0.7" fill="#4b5763"/>
<circle cx="121.90" cy="469.06" r="0.7" fill="#4b5763"/>
<circle cx="114.91" cy="470.87" r="0.7" fill="#4b5763"/>
<circle cx="120.19" cy="471.11" r="0.7" fill="#4b5763"/>
<circle cx="114.01" cy="474.92" r="0.7" fill="#4b5763"/>
<circle cx="111.55" cy="470.05" r="0.7" fill="#4b5763"/>
<circle cx="112.13" cy="468.15" r="0.7" fill="#4b5763"/>
<circle cx="116.73" cy="474.57" r="0.7" fill="#4b5763"/>
<circle cx="116.36" cy="473.67" r="0.7" fill="#4b5763"/>
<circle cx="111.68" cy="474.79" r="0.7" fill="#4b5763"/>
<circle cx="121.50" cy="472.71" r="0.7" fill="#4b5763"/>
<circle cx="107.81" cy="471.08" r="0.7" fill="#4b5763"/>
<circle cx="121.42" cy="474.31" r="0.7" fill="#4b5763"/>
<circle cx="112.08" cy="471.28" r="0.7" fill="#4b5763"/>
<circle cx="115.49" cy="474.71" r="0.7" fill="#4b5763"/>
<circle cx="119.42" cy="475.03" r="0.7" fill="#4b5763"/>
<circle cx="117.46" cy="475.18" r="0.7" fill="#4b5763"/>
<circle cx="122.47" cy="469.51" r="0.7" fill="#4b5763"/>
<circle cx="112.60" cy="473.94" r="0.7" fill="#4b5763"/>
<circle cx="125.25" cy="472.65" r="0.7" fill="#4b5763"/>
<circle cx="121.84" cy="475.18" r="0.7" fill="#4b5763"/>
<circle cx="115.95" cy="473.29" r="0.7" fill="#4b5763"/>
<circle cx="109.75" cy="471.68" r="0.7" fill="#4b5763"/>
<circle cx="113.38" cy="468.17" r="0.7" fill="#4b5763"/>
<circle cx="127.99" cy="472.00" r="0.7" fill="#4b5763"/>
<circle cx="125.28" cy="471.53" r="0.7" fill="#4b5763"/>
<circle cx="119.65" cy="472.28" r="0.7" fill="#4b5763"/>
<circle cx="107.58" cy="470.06" r="0.7" fill="#4b5763"/>
<circle cx="123.22" cy="468.95" r="0.7" fill="#4b5763"/>
<circle cx="114.29" cy="471.01" r="0.7" fill="#4b5763"/>
<circle cx="109.64" cy="466.34" r="0.72" fill="#cf1f3d"/>
<circle cx="109.08" cy="467.64" r="0.72" fill="#cf1f3d"/>
<circle cx="111.93" cy="465.16" r="0.72" fill="#cf1f3d"/>
<circle cx="111.84" cy="467.36" r="0.72" fill="#cf1f3d"/>
<circle cx="112.19" cy="464.94" r="0.72" fill="#cf1f3d"/>
<circle cx="111.39" cy="463.04" r="0.72" fill="#cf1f3d"/>
<circle cx="111.22" cy="467.29" r="0.72" fill="#cf1f3d"/>
<circle cx="109.38" cy="466.66" r="0.72" fill="#cf1f3d"/>
<circle cx="110.22" cy="465.80" r="0.72" fill="#cf1f3d"/>
<circle cx="112.58" cy="467.49" r="0.72" fill="#cf1f3d"/>
<circle cx="109.81" cy="457.84" r="0.72" fill="#cf1f3d"/>
<circle cx="111.48" cy="467.68" r="0.72" fill="#cf1f3d"/>
<circle cx="108.48" cy="465.59" r="0.72" fill="#cf1f3d"/>
<circle cx="106.83" cy="466.98" r="0.72" fill="#cf1f3d"/>
<circle cx="112.36" cy="466.81" r="0.72" fill="#cf1f3d"/>
<circle cx="109.00" cy="467.57" r="0.72" fill="#cf1f3d"/>
<circle cx="113.28" cy="467.55" r="0.72" fill="#cf1f3d"/>
<circle cx="112.25" cy="467.34" r="0.72" fill="#cf1f3d"/>
<circle cx="113.11" cy="467.61" r="0.72" fill="#cf1f3d"/>
<circle cx="107.46" cy="458.00" r="0.72" fill="#cf1f3d"/>
<circle cx="109.87" cy="463.18" r="0.72" fill="#cf1f3d"/>
<circle cx="110.96" cy="466.56" r="0.72" fill="#cf1f3d"/>
<circle cx="102.07" cy="465.84" r="0.72" fill="#cf1f3d"/>
<circle cx="108.06" cy="461.27" r="0.72" fill="#cf1f3d"/>
<circle cx="106.10" cy="467.64" r="0.72" fill="#cf1f3d"/>
<circle cx="107.33" cy="460.89" r="0.72" fill="#cf1f3d"/>
<circle cx="103.17" cy="458.39" r="0.72" fill="#cf1f3d"/>
<circle cx="109.01" cy="464.41" r="0.72" fill="#cf1f3d"/>
<circle cx="108.14" cy="457.03" r="0.72" fill="#cf1f3d"/>
<circle cx="109.86" cy="464.12" r="0.72" fill="#cf1f3d"/>
<circle cx="103.47" cy="453.93" r="0.72" fill="#cf1f3d"/>
<circle cx="109.86" cy="467.13" r="0.72" fill="#cf1f3d"/>
<circle cx="105.49" cy="467.66" r="0.72" fill="#cf1f3d"/>
<circle cx="109.84" cy="467.56" r="0.72" fill="#cf1f3d"/>
<circle cx="109.45" cy="459.59" r="0.72" fill="#cf1f3d"/>
<circle cx="106.01" cy="460.92" r="0.72" fill="#cf1f3d"/>
<circle cx="110.56" cy="463.77" r="0.72" fill="#cf1f3d"/>
<circle cx="112.96" cy="466.60" r="0.72" fill="#cf1f3d"/>
<circle cx="113.39" cy="467.40" r="0.72" fill="#cf1f3d"/>
<circle cx="106.43" cy="460.18" r="0.72" fill="#cf1f3d"/>
<circle cx="113.29" cy="467.67" r="0.72" fill="#cf1f3d"/>
<circle cx="113.06" cy="467.67" r="0.72" fill="#cf1f3d"/>
<circle cx="109.13" cy="466.79" r="0.72" fill="#cf1f3d"/>
<circle cx="112.92" cy="466.69" r="0.72" fill="#cf1f3d"/>
<circle cx="109.62" cy="457.12" r="0.72" fill="#cf1f3d"/>
<circle cx="107.87" cy="464.00" r="0.72" fill="#cf1f3d"/>
<circle cx="113.21" cy="467.21" r="0.72" fill="#cf1f3d"/>
<circle cx="112.58" cy="466.54" r="0.72" fill="#cf1f3d"/>
<circle cx="105.64" cy="467.57" r="0.72" fill="#cf1f3d"/>
<circle cx="110.82" cy="463.41" r="0.72" fill="#cf1f3d"/>
<circle cx="109.96" cy="466.74" r="0.72" fill="#cf1f3d"/>
<circle cx="112.60" cy="467.67" r="0.72" fill="#cf1f3d"/>
<circle cx="113.05" cy="467.57" r="0.72" fill="#cf1f3d"/>
<circle cx="109.34" cy="462.24" r="0.72" fill="#cf1f3d"/>
<circle cx="105.77" cy="466.22" r="0.72" fill="#cf1f3d"/>
<circle cx="107.14" cy="463.93" r="0.72" fill="#cf1f3d"/>
<circle cx="112.76" cy="467.64" r="0.72" fill="#cf1f3d"/>
<circle cx="110.46" cy="459.33" r="0.72" fill="#cf1f3d"/>
<circle cx="111.08" cy="461.57" r="0.72" fill="#cf1f3d"/>
<circle cx="107.19" cy="456.09" r="0.72" fill="#cf1f3d"/>
<circle cx="112.73" cy="465.49" r="0.72" fill="#cf1f3d"/>
<circle cx="109.17" cy="467.13" r="0.72" fill="#cf1f3d"/>
<circle cx="112.02" cy="463.81" r="0.72" fill="#cf1f3d"/>
<circle cx="111.60" cy="467.56" r="0.72" fill="#cf1f3d"/>
<circle cx="106.19" cy="462.94" r="0.72" fill="#cf1f3d"/>
<circle cx="110.54" cy="461.95" r="0.72" fill="#cf1f3d"/>
<circle cx="112.54" cy="466.93" r="0.72" fill="#cf1f3d"/>
<circle cx="106.74" cy="466.75" r="0.72" fill="#cf1f3d"/>
<circle cx="107.67" cy="454.31" r="0.72" fill="#cf1f3d"/>
<circle cx="112.16" cy="467.68" r="0.72" fill="#cf1f3d"/>
<circle cx="113.31" cy="467.50" r="0.72" fill="#cf1f3d"/>
<circle cx="108.86" cy="467.41" r="0.72" fill="#cf1f3d"/>
<circle cx="111.96" cy="467.14" r="0.72" fill="#cf1f3d"/>
<circle cx="109.05" cy="467.68" r="0.72" fill="#cf1f3d"/>
<circle cx="103.52" cy="457.96" r="0.72" fill="#cf1f3d"/>
<circle cx="111.90" cy="463.67" r="0.72" fill="#cf1f3d"/>
<circle cx="111.00" cy="464.01" r="0.72" fill="#cf1f3d"/>
<circle cx="109.61" cy="466.13" r="0.72" fill="#cf1f3d"/>
<circle cx="110.71" cy="466.44" r="0.72" fill="#cf1f3d"/>
<circle cx="105.88" cy="465.43" r="0.72" fill="#cf1f3d"/>
<circle cx="113.36" cy="467.57" r="0.72" fill="#cf1f3d"/>
<circle cx="113.14" cy="467.66" r="0.72" fill="#cf1f3d"/>
<circle cx="111.66" cy="463.95" r="0.72" fill="#cf1f3d"/>
<circle cx="110.48" cy="467.14" r="0.72" fill="#cf1f3d"/>
<circle cx="111.40" cy="462.12" r="0.72" fill="#cf1f3d"/>
<circle cx="108.34" cy="456.18" r="0.72" fill="#cf1f3d"/>
<circle cx="110.39" cy="460.23" r="0.72" fill="#cf1f3d"/>
<circle cx="106.04" cy="452.42" r="0.72" fill="#cf1f3d"/>
<circle cx="104.84" cy="467.63" r="0.72" fill="#cf1f3d"/>
<circle cx="110.68" cy="463.32" r="0.72" fill="#cf1f3d"/>
<circle cx="104.42" cy="460.52" r="0.72" fill="#cf1f3d"/>
<circle cx="110.55" cy="466.98" r="0.72" fill="#cf1f3d"/>
<circle cx="109.51" cy="466.33" r="0.72" fill="#cf1f3d"/>
<circle cx="110.68" cy="459.95" r="0.72" fill="#cf1f3d"/>
<circle cx="104.57" cy="466.51" r="0.72" fill="#cf1f3d"/>
<circle cx="110.76" cy="465.22" r="0.72" fill="#cf1f3d"/>
<circle cx="109.45" cy="465.87" r="0.72" fill="#cf1f3d"/>
<circle cx="111.75" cy="467.46" r="0.72" fill="#cf1f3d"/>
<circle cx="110.51" cy="460.62" r="0.72" fill="#cf1f3d"/>
<circle cx="109.44" cy="458.14" r="0.72" fill="#cf1f3d"/>
<circle cx="113.34" cy="467.08" r="0.72" fill="#cf1f3d"/>
<circle cx="110.47" cy="467.35" r="0.72" fill="#cf1f3d"/>
<circle cx="112.46" cy="467.65" r="0.72" fill="#cf1f3d"/>
<circle cx="112.07" cy="467.44" r="0.72" fill="#cf1f3d"/>
<circle cx="111.35" cy="467.26" r="0.72" fill="#cf1f3d"/>
<circle cx="108.42" cy="465.19" r="0.72" fill="#cf1f3d"/>
<circle cx="107.99" cy="465.88" r="0.72" fill="#cf1f3d"/>
<circle cx="112.59" cy="467.66" r="0.72" fill="#cf1f3d"/>
<circle cx="110.87" cy="467.56" r="0.72" fill="#cf1f3d"/>
<circle cx="98.84" cy="463.31" r="0.72" fill="#cf1f3d"/>
<circle cx="110.85" cy="467.12" r="0.72" fill="#cf1f3d"/>
<circle cx="110.43" cy="467.13" r="0.72" fill="#cf1f3d"/>
<circle cx="108.46" cy="454.60" r="0.72" fill="#cf1f3d"/>
<circle cx="109.80" cy="460.05" r="0.72" fill="#cf1f3d"/>
<circle cx="112.59" cy="467.67" r="0.72" fill="#cf1f3d"/>
<circle cx="112.57" cy="466.27" r="0.72" fill="#cf1f3d"/>
<circle cx="108.35" cy="462.61" r="0.72" fill="#cf1f3d"/>
<circle cx="109.52" cy="467.68" r="0.72" fill="#cf1f3d"/>
<circle cx="103.39" cy="455.93" r="0.72" fill="#cf1f3d"/>
<circle cx="105.28" cy="455.06" r="0.72" fill="#cf1f3d"/>
<circle cx="109.21" cy="467.53" r="0.72" fill="#cf1f3d"/>
<circle cx="112.68" cy="467.62" r="0.72" fill="#cf1f3d"/>
<circle cx="104.95" cy="452.40" r="0.72" fill="#cf1f3d"/>
<circle cx="112.22" cy="465.71" r="0.72" fill="#cf1f3d"/>
<circle cx="107.64" cy="464.19" r="0.72" fill="#cf1f3d"/>
<circle cx="105.74" cy="462.43" r="0.72" fill="#cf1f3d"/>
<circle cx="103.86" cy="466.74" r="0.72" fill="#cf1f3d"/>
<circle cx="110.99" cy="461.56" r="0.72" fill="#cf1f3d"/>
<circle cx="110.48" cy="467.53" r="0.72" fill="#cf1f3d"/>
<circle cx="109.61" cy="466.97" r="0.72" fill="#cf1f3d"/>
<circle cx="107.69" cy="467.47" r="0.72" fill="#cf1f3d"/>
<circle cx="106.81" cy="467.59" r="0.72" fill="#cf1f3d"/>
<circle cx="106.04" cy="465.08" r="0.72" fill="#cf1f3d"/>
<circle cx="112.27" cy="467.49" r="0.72" fill="#cf1f3d"/>
<circle cx="112.76" cy="467.47" r="0.72" fill="#cf1f3d"/>
<circle cx="112.93" cy="467.30" r="0.72" fill="#cf1f3d"/>
<circle cx="105.56" cy="454.21" r="0.72" fill="#cf1f3d"/>
<circle cx="111.34" cy="466.27" r="0.72" fill="#cf1f3d"/>
<circle cx="113.01" cy="466.25" r="0.72" fill="#cf1f3d"/>
<circle cx="109.18" cy="461.55" r="0.72" fill="#cf1f3d"/>
<circle cx="113.00" cy="467.28" r="0.72" fill="#cf1f3d"/>
<circle cx="112.31" cy="466.07" r="0.72" fill="#cf1f3d"/>
<circle cx="109.60" cy="462.71" r="0.72" fill="#cf1f3d"/>
<circle cx="111.32" cy="462.28" r="0.72" fill="#cf1f3d"/>
<circle cx="113.20" cy="467.56" r="0.72" fill="#cf1f3d"/>
<circle cx="111.95" cy="466.87" r="0.72" fill="#cf1f3d"/>
<circle cx="111.87" cy="464.66" r="0.72" fill="#cf1f3d"/>
<circle cx="110.00" cy="462.19" r="0.72" fill="#cf1f3d"/>
<circle cx="109.59" cy="457.16" r="0.72" fill="#cf1f3d"/>
<circle cx="113.30" cy="467.60" r="0.72" fill="#cf1f3d"/>
<circle cx="111.67" cy="467.42" r="0.72" fill="#cf1f3d"/>
<circle cx="109.71" cy="461.41" r="0.72" fill="#cf1f3d"/>
<circle cx="109.54" cy="464.89" r="0.72" fill="#cf1f3d"/>
<circle cx="106.17" cy="452.16" r="0.72" fill="#cf1f3d"/>
<circle cx="109.26" cy="467.42" r="0.72" fill="#cf1f3d"/>
<circle cx="110.35" cy="459.10" r="0.72" fill="#cf1f3d"/>
<circle cx="110.99" cy="467.53" r="0.72" fill="#cf1f3d"/>
<circle cx="111.53" cy="466.79" r="0.72" fill="#cf1f3d"/>
<circle cx="112.78" cy="465.91" r="0.72" fill="#cf1f3d"/>
<circle cx="106.59" cy="450.52" r="0.72" fill="#cf1f3d"/>
<circle cx="107.29" cy="452.72" r="0.72" fill="#cf1f3d"/>
<circle cx="111.69" cy="463.06" r="0.72" fill="#cf1f3d"/>
<circle cx="110.24" cy="462.47" r="0.72" fill="#cf1f3d"/>
<circle cx="105.24" cy="465.20" r="0.72" fill="#cf1f3d"/>
<circle cx="111.76" cy="466.97" r="0.72" fill="#cf1f3d"/>
<circle cx="121.29" cy="467.68" r="0.72" fill="#cf1f3d"/>
<circle cx="121.98" cy="467.21" r="0.72" fill="#cf1f3d"/>
<circle cx="124.81" cy="467.54" r="0.72" fill="#cf1f3d"/>
<circle cx="126.35" cy="454.82" r="0.72" fill="#cf1f3d"/>
<circle cx="121.14" cy="465.13" r="0.72" fill="#cf1f3d"/>
<circle cx="123.09" cy="459.48" r="0.72" fill="#cf1f3d"/>
<circle cx="121.27" cy="466.81" r="0.72" fill="#cf1f3d"/>
<circle cx="120.79" cy="467.41" r="0.72" fill="#cf1f3d"/>
<circle cx="122.11" cy="466.79" r="0.72" fill="#cf1f3d"/>
<circle cx="121.35" cy="463.88" r="0.72" fill="#cf1f3d"/>
<circle cx="123.40" cy="458.87" r="0.72" fill="#cf1f3d"/>
<circle cx="120.98" cy="465.89" r="0.72" fill="#cf1f3d"/>
<circle cx="121.17" cy="467.67" r="0.72" fill="#cf1f3d"/>
<circle cx="120.61" cy="466.41" r="0.72" fill="#cf1f3d"/>
<circle cx="120.62" cy="466.41" r="0.72" fill="#cf1f3d"/>
<circle cx="125.32" cy="466.39" r="0.72" fill="#cf1f3d"/>
<circle cx="121.45" cy="465.85" r="0.72" fill="#cf1f3d"/>
<circle cx="127.79" cy="466.94" r="0.72" fill="#cf1f3d"/>
<circle cx="121.37" cy="467.68" r="0.72" fill="#cf1f3d"/>
<circle cx="122.58" cy="462.09" r="0.72" fill="#cf1f3d"/>
<circle cx="124.04" cy="455.43" r="0.72" fill="#cf1f3d"/>
<circle cx="122.51" cy="467.67" r="0.72" fill="#cf1f3d"/>
<circle cx="120.75" cy="465.72" r="0.72" fill="#cf1f3d"/>
<circle cx="123.76" cy="455.13" r="0.72" fill="#cf1f3d"/>
<circle cx="122.11" cy="466.39" r="0.72" fill="#cf1f3d"/>
<circle cx="121.88" cy="466.15" r="0.72" fill="#cf1f3d"/>
<circle cx="122.10" cy="462.62" r="0.72" fill="#cf1f3d"/>
<circle cx="121.23" cy="465.47" r="0.72" fill="#cf1f3d"/>
<circle cx="122.66" cy="464.11" r="0.72" fill="#cf1f3d"/>
<circle cx="124.99" cy="466.48" r="0.72" fill="#cf1f3d"/>
<circle cx="121.60" cy="464.22" r="0.72" fill="#cf1f3d"/>
<circle cx="122.95" cy="467.63" r="0.72" fill="#cf1f3d"/>
<circle cx="122.02" cy="467.31" r="0.72" fill="#cf1f3d"/>
<circle cx="125.10" cy="467.64" r="0.72" fill="#cf1f3d"/>
<circle cx="124.08" cy="466.49" r="0.72" fill="#cf1f3d"/>
<circle cx="121.20" cy="463.68" r="0.72" fill="#cf1f3d"/>
<circle cx="126.95" cy="466.93" r="0.72" fill="#cf1f3d"/>
<circle cx="126.29" cy="467.62" r="0.72" fill="#cf1f3d"/>
<circle cx="123.27" cy="461.37" r="0.72" fill="#cf1f3d"/>
<circle cx="122.39" cy="466.06" r="0.72" fill="#cf1f3d"/>
<circle cx="120.71" cy="466.98" r="0.72" fill="#cf1f3d"/>
<circle cx="123.47" cy="461.83" r="0.72" fill="#cf1f3d"/>
<circle cx="120.48" cy="467.29" r="0.72" fill="#cf1f3d"/>
<circle cx="126.15" cy="467.54" r="0.72" fill="#cf1f3d"/>
<circle cx="121.74" cy="465.78" r="0.72" fill="#cf1f3d"/>
<circle cx="122.49" cy="466.54" r="0.72" fill="#cf1f3d"/>
<circle cx="120.55" cy="467.62" r="0.72" fill="#cf1f3d"/>
<circle cx="122.38" cy="467.25" r="0.72" fill="#cf1f3d"/>
<circle cx="123.92" cy="463.50" r="0.72" fill="#cf1f3d"/>
<circle cx="125.46" cy="466.49" r="0.72" fill="#cf1f3d"/>
<circle cx="126.04" cy="458.95" r="0.72" fill="#cf1f3d"/>
<circle cx="125.60" cy="467.58" r="0.72" fill="#cf1f3d"/>
<circle cx="127.88" cy="464.97" r="0.72" fill="#cf1f3d"/>
<circle cx="123.95" cy="467.66" r="0.72" fill="#cf1f3d"/>
<circle cx="125.94" cy="466.74" r="0.72" fill="#cf1f3d"/>
<circle cx="121.81" cy="461.17" r="0.72" fill="#cf1f3d"/>
<circle cx="121.72" cy="465.70" r="0.72" fill="#cf1f3d"/>
<circle cx="123.00" cy="458.79" r="0.72" fill="#cf1f3d"/>
<circle cx="121.62" cy="466.64" r="0.72" fill="#cf1f3d"/>
<circle cx="120.73" cy="465.85" r="0.72" fill="#cf1f3d"/>
<circle cx="125.54" cy="467.58" r="0.72" fill="#cf1f3d"/>
<circle cx="123.80" cy="467.19" r="0.72" fill="#cf1f3d"/>
<circle cx="122.75" cy="466.44" r="0.72" fill="#cf1f3d"/>
<circle cx="121.67" cy="467.37" r="0.72" fill="#cf1f3d"/>
<circle cx="121.96" cy="465.22" r="0.72" fill="#cf1f3d"/>
<circle cx="121.57" cy="467.68" r="0.72" fill="#cf1f3d"/>
<circle cx="122.04" cy="467.00" r="0.72" fill="#cf1f3d"/>
<circle cx="121.23" cy="467.34" r="0.72" fill="#cf1f3d"/>
<circle cx="122.11" cy="467.43" r="0.72" fill="#cf1f3d"/>
<circle cx="104.73" cy="437.84" r="0.8" fill="#cf1f3d"/>
<circle cx="105.86" cy="443.48" r="0.8" fill="#cf1f3d"/>
<circle cx="110.59" cy="447.79" r="0.8" fill="#cf1f3d"/>
<circle cx="127.89" cy="453.42" r="0.8" fill="#cf1f3d"/>
<circle cx="132.83" cy="458.73" r="0.8" fill="#cf1f3d"/>
<circle cx="135.66" cy="466.68" r="0.8" fill="#cf1f3d"/>
<circle cx="89.77" cy="460.71" r="0.8" fill="#cf1f3d"/>
<circle cx="87.65" cy="464.69" r="0.8" fill="#cf1f3d"/>
<circle cx="94.71" cy="455.41" r="0.8" fill="#cf1f3d"/>
<circle cx="98.94" cy="451.43" r="0.8" fill="#cf1f3d"/>
<circle cx="125.77" cy="452.10" r="0.8" fill="#cf1f3d"/>
<circle cx="96.12" cy="464.03" r="0.8" fill="#cf1f3d"/>
<circle cx="97.53" cy="459.06" r="0.8" fill="#cf1f3d"/>
<circle cx="84.82" cy="466.68" r="0.8" fill="#cf1f3d"/>
<circle cx="100.36" cy="456.74" r="0.8" fill="#cf1f3d"/>
<circle cx="92.59" cy="465.69" r="0.8" fill="#cf1f3d"/>
<circle cx="74.94" cy="474.31" r="0.8" fill="#4b5763"/>
<circle cx="106.80" cy="414.40" r="0.85" fill="#27407a"/>
<circle cx="67.20" cy="423.80" r="0.85" fill="#27407a"/>
<circle cx="84.80" cy="449.20" r="0.85" fill="#27407a"/>
<circle cx="110.20" cy="443.90" r="0.85" fill="#27407a"/>
<circle cx="58.00" cy="457.00" r="0.85" fill="#5e58a6"/>
<circle cx="109.60" cy="452.60" r="0.85" fill="#27407a"/>
<text x="104.60" y="416.20" font-size="4.9" text-anchor="end" font-style="italic" fill="#4476ab">HSPB1(HSP27)</text>
<text x="69.60" y="425.60" font-size="4.9" font-style="italic" fill="#4476ab">SCARNA2</text>
<text x="112.60" y="445.60" font-size="4.9" font-style="italic" fill="#4476ab">MKI67</text>
<text x="87.20" y="451.00" font-size="4.9" font-style="italic" fill="#4476ab">CXCL8</text>
<text x="61.00" y="458.70" font-size="4.9" font-style="italic" fill="#5e58a6">WFDC2</text>
<text x="110.60" y="454.60" font-size="4.9" font-style="italic" fill="#4476ab">ID9</text>
<line x1="46.80" y1="407.00" x2="46.80" y2="476.05" stroke="#231f20" stroke-width="1.1"/>
<line x1="43.90" y1="475.50" x2="147.80" y2="475.50" stroke="#231f20" stroke-width="1.1"/>
<line x1="43.90" y1="475.30" x2="46.80" y2="475.30" stroke="#231f20" stroke-width="0.95"/>
<text x="40.90" y="477.90" font-size="7.3" text-anchor="end">0</text>
<line x1="43.90" y1="458.73" x2="46.80" y2="458.73" stroke="#231f20" stroke-width="0.95"/>
<text x="40.90" y="461.33" font-size="7.3" text-anchor="end">5</text>
<line x1="43.90" y1="442.15" x2="46.80" y2="442.15" stroke="#231f20" stroke-width="0.95"/>
<text x="40.90" y="444.75" font-size="7.3" text-anchor="end">10</text>
<line x1="43.90" y1="425.57" x2="46.80" y2="425.57" stroke="#231f20" stroke-width="0.95"/>
<text x="40.90" y="428.18" font-size="7.3" text-anchor="end">15</text>
<line x1="43.90" y1="409.00" x2="46.80" y2="409.00" stroke="#231f20" stroke-width="0.95"/>
<text x="40.90" y="411.60" font-size="7.3" text-anchor="end">20</text>
<line x1="46.70" y1="475.30" x2="46.70" y2="478.50" stroke="#231f20" stroke-width="0.95"/>
<text x="45.30" y="487.70" font-size="7.3" text-anchor="middle">−10</text>
<line x1="60.82" y1="475.30" x2="60.82" y2="478.50" stroke="#231f20" stroke-width="0.95"/>
<text x="59.42" y="487.70" font-size="7.3" text-anchor="middle">−8</text>
<line x1="74.94" y1="475.30" x2="74.94" y2="478.50" stroke="#231f20" stroke-width="0.95"/>
<text x="73.54" y="487.70" font-size="7.3" text-anchor="middle">−6</text>
<line x1="89.06" y1="475.30" x2="89.06" y2="478.50" stroke="#231f20" stroke-width="0.95"/>
<text x="87.66" y="487.70" font-size="7.3" text-anchor="middle">−4</text>
<line x1="103.18" y1="475.30" x2="103.18" y2="478.50" stroke="#231f20" stroke-width="0.95"/>
<text x="101.78" y="487.70" font-size="7.3" text-anchor="middle">−2</text>
<line x1="117.30" y1="475.30" x2="117.30" y2="478.50" stroke="#231f20" stroke-width="0.95"/>
<text x="117.30" y="487.70" font-size="7.3" text-anchor="middle">0</text>
<line x1="131.42" y1="475.30" x2="131.42" y2="478.50" stroke="#231f20" stroke-width="0.95"/>
<text x="131.42" y="487.70" font-size="7.3" text-anchor="middle">2</text>
<line x1="145.54" y1="475.30" x2="145.54" y2="478.50" stroke="#231f20" stroke-width="0.95"/>
<text x="145.54" y="487.70" font-size="7.3" text-anchor="middle">4</text>
<text x="0.00" y="0.00" font-size="9.6" text-anchor="middle" transform="translate(97.80 500.80) scale(0.67 1)" stroke="#231f20" stroke-width="0.22">Log<tspan baseline-shift="sub" font-size="5.5">2</tspan> fold change</text>
<text x="0.00" y="0.00" font-size="9.6" text-anchor="middle" transform="translate(26.00 442.50) rotate(-90) scale(0.67 1)" stroke="#231f20" stroke-width="0.22">−Log<tspan baseline-shift="sub" font-size="5.5">10</tspan> <tspan font-style="italic">P</tspan><tspan baseline-shift="sub" font-size="5.5">adj</tspan></text>
<text x="165.90" y="408.60" font-size="12.2" font-weight="bold" fill="#000" stroke="#000" stroke-width="0.3">F</text>
<path d="M214.30 431.95 Q214.30 432.00 214.30 434.30 Q214.30 436.60 214.20 437.00 Q214.10 437.40 212.10 439.50 Q210.10 441.60 210.10 442.30 Q210.10 443.00 210.40 443.05 Q210.70 443.10 216.70 443.10 Q222.70 443.10 223.00 443.05 Q223.30 443.00 223.30 442.30 Q223.30 441.60 221.30 439.50 Q219.30 437.40 219.20 437.00 Q219.10 436.60 219.10 434.30 Q219.10 432.00 219.10 431.95 Q219.10 431.90 216.70 431.90 Q214.30 431.90 214.30 431.95 Z" fill="#fff" stroke="#154c8a" stroke-width="1.15" stroke-linejoin="round"/>
<circle cx="215.10" cy="440.00" r="0.55" fill="#154c8a"/>
<circle cx="218.30" cy="440.00" r="0.55" fill="#154c8a"/>
<path d="M230.70 446.25 Q230.30 446.30 230.60 447.95 Q230.90 449.60 230.60 451.30 Q230.30 453.00 230.70 453.05 Q231.10 453.10 237.10 453.10 Q243.10 453.10 243.50 453.05 Q243.90 453.00 243.60 451.30 Q243.30 449.60 243.60 447.95 Q243.90 446.30 243.50 446.25 Q243.10 446.20 237.10 446.20 Q231.10 446.20 230.70 446.25 Z" fill="#fff" stroke="#cc0c30" stroke-width="1.15" stroke-linejoin="round"/>
<circle cx="235.50" cy="449.90" r="0.55" fill="#cc0c30"/>
<circle cx="238.70" cy="449.90" r="0.55" fill="#cc0c30"/>
<path d="M250.60 442.25 Q250.20 442.30 250.20 442.95 Q250.20 443.60 252.20 445.50 Q254.20 447.40 254.30 448.95 Q254.40 450.50 253.90 451.45 Q253.40 452.40 253.60 452.45 Q253.80 452.50 257.00 452.50 Q260.20 452.50 260.40 452.45 Q260.60 452.40 260.10 451.45 Q259.60 450.50 259.70 448.95 Q259.80 447.40 261.80 445.50 Q263.80 443.60 263.80 442.95 Q263.80 442.30 263.40 442.25 Q263.00 442.20 257.00 442.20 Q251.00 442.20 250.60 442.25 Z" fill="#fff" stroke="#3aae41" stroke-width="1.15" stroke-linejoin="round"/>
<circle cx="255.40" cy="444.60" r="0.55" fill="#3aae41"/>
<circle cx="258.60" cy="444.60" r="0.55" fill="#3aae41"/>
<path d="M270.50 461.35 Q270.10 461.40 270.10 462.20 Q270.10 463.00 271.50 464.60 Q272.90 466.20 273.00 467.60 Q273.10 469.00 272.80 469.85 Q272.50 470.70 272.70 470.75 Q272.90 470.80 277.10 470.80 Q281.30 470.80 281.50 470.75 Q281.70 470.70 281.40 469.85 Q281.10 469.00 281.20 467.60 Q281.30 466.20 282.70 464.60 Q284.10 463.00 284.10 462.20 Q284.10 461.40 283.70 461.35 Q283.30 461.30 277.10 461.30 Q270.90 461.30 270.50 461.35 Z" fill="#fff" stroke="#55257b" stroke-width="1.15" stroke-linejoin="round"/>
<circle cx="275.50" cy="464.00" r="0.55" fill="#55257b"/>
<circle cx="278.70" cy="464.00" r="0.55" fill="#55257b"/>
<line x1="203.80" y1="407.50" x2="203.80" y2="479.05" stroke="#231f20" stroke-width="1.1"/>
<line x1="200.90" y1="478.50" x2="291.30" y2="478.50" stroke="#231f20" stroke-width="1.1"/>
<line x1="200.90" y1="478.30" x2="203.80" y2="478.30" stroke="#231f20" stroke-width="0.95"/>
<text x="196.90" y="480.70" font-size="6.7" text-anchor="end">4.0</text>
<line x1="200.90" y1="464.54" x2="203.80" y2="464.54" stroke="#231f20" stroke-width="0.95"/>
<text x="196.90" y="466.94" font-size="6.7" text-anchor="end">4.2</text>
<line x1="200.90" y1="450.78" x2="203.80" y2="450.78" stroke="#231f20" stroke-width="0.95"/>
<text x="196.90" y="453.18" font-size="6.7" text-anchor="end">4.4</text>
<line x1="200.90" y1="437.02" x2="203.80" y2="437.02" stroke="#231f20" stroke-width="0.95"/>
<text x="196.90" y="439.42" font-size="6.7" text-anchor="end">4.6</text>
<line x1="200.90" y1="423.26" x2="203.80" y2="423.26" stroke="#231f20" stroke-width="0.95"/>
<text x="196.90" y="425.66" font-size="6.7" text-anchor="end">4.8</text>
<line x1="200.90" y1="409.50" x2="203.80" y2="409.50" stroke="#231f20" stroke-width="0.95"/>
<text x="196.90" y="411.90" font-size="6.7" text-anchor="end">5.0</text>
<line x1="217.00" y1="478.30" x2="217.00" y2="481.50" stroke="#231f20" stroke-width="0.95"/>
<line x1="236.60" y1="478.30" x2="236.60" y2="481.50" stroke="#231f20" stroke-width="0.95"/>
<line x1="257.00" y1="478.30" x2="257.00" y2="481.50" stroke="#231f20" stroke-width="0.95"/>
<line x1="277.00" y1="478.30" x2="277.00" y2="481.50" stroke="#231f20" stroke-width="0.95"/>
<text x="0.00" y="0.00" font-size="8.8" text-anchor="middle" transform="translate(181.40 440.50) rotate(-90) scale(0.68 1)" stroke="#231f20" stroke-width="0.22"><tspan font-style="italic">HSPB1</tspan> mRNA</text>
<line x1="216.30" y1="414.50" x2="277.20" y2="414.50" stroke="#231f20" stroke-width="1.25"/>
<text x="246.80" y="410.70" font-size="6.8" text-anchor="middle"><tspan font-style="italic">P</tspan> = .0033</text>
<line x1="237.00" y1="426.50" x2="277.20" y2="426.50" stroke="#231f20" stroke-width="1.25"/>
<text x="257.50" y="423.20" font-size="6.8" text-anchor="middle"><tspan font-style="italic">P</tspan> = .0085</text>
<line x1="256.30" y1="437.50" x2="277.20" y2="437.50" stroke="#231f20" stroke-width="1.25"/>
<text x="266.30" y="434.60" font-size="6.8" text-anchor="middle"><tspan font-style="italic">P</tspan> = .0090</text>
<rect x="293.30" y="424.50" width="5.00" height="5.00" fill="#fff" stroke="#154c8a" stroke-width="0.9" rx="0.8"/>
<text x="302.00" y="429.20" font-size="6.4">Vehicle</text>
<rect x="293.30" y="435.00" width="5.00" height="5.00" fill="#fff" stroke="#cc0c30" stroke-width="0.9" rx="0.8"/>
<text x="302.00" y="439.70" font-size="6.4">Abemaciclib</text>
<rect x="293.30" y="445.50" width="5.00" height="5.00" fill="#fff" stroke="#3aae41" stroke-width="0.9" rx="0.8"/>
<text x="302.00" y="450.20" font-size="6.4">Venetoclax</text>
<rect x="293.30" y="455.70" width="5.00" height="5.00" fill="#fff" stroke="#55257b" stroke-width="0.9" rx="0.8"/>
<text x="302.00" y="460.40" font-size="6.4">Combo</text>
<text x="352.80" y="409.30" font-size="12.2" font-weight="bold" fill="#000" stroke="#000" stroke-width="0.3">G</text>
<text x="405.60" y="426.70" font-size="6.6" text-anchor="middle">Vehicle</text>
<line x1="394.00" y1="429.50" x2="417.60" y2="429.50" stroke="#231f20" stroke-width="1"/>
<text x="434.30" y="426.70" font-size="6.6" text-anchor="middle">ABE</text>
<line x1="424.50" y1="429.50" x2="444.80" y2="429.50" stroke="#231f20" stroke-width="1"/>
<text x="457.80" y="426.70" font-size="6.6" text-anchor="middle">Vene</text>
<line x1="449.70" y1="429.50" x2="470.00" y2="429.50" stroke="#231f20" stroke-width="1"/>
<text x="486.80" y="426.70" font-size="6.6" text-anchor="middle">Combo</text>
<line x1="474.20" y1="429.50" x2="500.30" y2="429.50" stroke="#231f20" stroke-width="1"/>
<text x="397.90" y="439.10" font-size="6.4" text-anchor="middle">1</text>
<text x="408.00" y="439.10" font-size="6.4" text-anchor="middle">2</text>
<text x="416.80" y="439.10" font-size="6.4" text-anchor="middle">3</text>
<text x="425.40" y="439.10" font-size="6.4" text-anchor="middle">1</text>
<text x="435.00" y="439.10" font-size="6.4" text-anchor="middle">2</text>
<text x="442.60" y="439.10" font-size="6.4" text-anchor="middle">3</text>
<text x="451.60" y="439.10" font-size="6.4" text-anchor="middle">1</text>
<text x="459.30" y="439.10" font-size="6.4" text-anchor="middle">2</text>
<text x="466.30" y="439.10" font-size="6.4" text-anchor="middle">3</text>
<text x="476.90" y="439.10" font-size="6.4" text-anchor="middle">1</text>
<text x="485.10" y="439.10" font-size="6.4" text-anchor="middle">2</text>
<text x="495.90" y="439.10" font-size="6.4" text-anchor="middle">3</text>
<text x="386.60" y="450.60" font-size="6.95" text-anchor="end">HSP27</text>
<text x="386.60" y="466.00" font-size="6.95" text-anchor="end">GAPDH</text>
<clipPath id="gc1"><rect x="390.00" y="442.40" width="112.00" height="12.40"/></clipPath>
<clipPath id="gc2"><rect x="390.00" y="457.70" width="112.00" height="11.80"/></clipPath>
<g clip-path="url(#gc1)">
<rect x="390.00" y="442.40" width="112.00" height="12.40" fill="#f8f8f8"/>
<rect x="392.52" y="446.43" width="9.57" height="2.94" rx="3.20" ry="1.47" fill="#0c0c0c" fill-opacity="0.96" filter="url(#b1)"/>
<rect x="402.22" y="445.93" width="9.57" height="2.94" rx="3.20" ry="1.47" fill="#0c0c0c" fill-opacity="0.98" filter="url(#b1)"/>
<rect x="411.42" y="446.13" width="9.57" height="2.94" rx="3.20" ry="1.47" fill="#0c0c0c" fill-opacity="0.98" filter="url(#b1)"/>
<rect x="420.72" y="446.88" width="9.57" height="1.84" rx="3.20" ry="0.92" fill="#0c0c0c" fill-opacity="0.65" filter="url(#b1)"/>
<rect x="429.72" y="446.38" width="9.57" height="1.84" rx="3.20" ry="0.92" fill="#0c0c0c" fill-opacity="0.60" filter="url(#b1)"/>
<rect x="438.22" y="446.57" width="9.57" height="1.66" rx="3.20" ry="0.83" fill="#0c0c0c" fill-opacity="0.50" filter="url(#b1)"/>
<rect x="446.52" y="446.11" width="9.57" height="2.58" rx="3.20" ry="1.29" fill="#0c0c0c" fill-opacity="0.90" filter="url(#b1)"/>
<rect x="454.52" y="446.31" width="9.57" height="2.58" rx="3.20" ry="1.29" fill="#0c0c0c" fill-opacity="0.88" filter="url(#b1)"/>
<rect x="462.12" y="446.80" width="9.57" height="2.39" rx="3.20" ry="1.20" fill="#0c0c0c" fill-opacity="0.80" filter="url(#b1)"/>
<rect x="471.82" y="446.97" width="9.57" height="1.66" rx="3.20" ry="0.83" fill="#0c0c0c" fill-opacity="0.50" filter="url(#b1)"/>
<rect x="480.62" y="448.96" width="9.57" height="1.29" rx="3.20" ry="0.64" fill="#0c0c0c" fill-opacity="0.20" filter="url(#b1)"/>
<rect x="490.22" y="450.86" width="9.57" height="1.47" rx="3.20" ry="0.74" fill="#0c0c0c" fill-opacity="0.30" filter="url(#b1)"/>
</g>
<rect x="390.00" y="442.40" width="112.00" height="12.40" fill="none" stroke="#333" stroke-width="0.7"/>
<g clip-path="url(#gc2)">
<rect x="390.00" y="457.70" width="112.00" height="11.80" fill="#f8f8f8"/>
<rect x="392.20" y="462.17" width="10.19" height="3.86" rx="3.20" ry="1.93" fill="#0c0c0c" fill-opacity="0.99" filter="url(#b1)"/>
<rect x="401.90" y="462.17" width="10.19" height="3.86" rx="3.20" ry="1.93" fill="#0c0c0c" fill-opacity="0.99" filter="url(#b1)"/>
<rect x="411.10" y="461.97" width="10.19" height="3.86" rx="3.20" ry="1.93" fill="#0c0c0c" fill-opacity="0.99" filter="url(#b1)"/>
<rect x="420.40" y="461.48" width="10.19" height="4.05" rx="3.20" ry="2.02" fill="#0c0c0c" fill-opacity="0.99" filter="url(#b1)"/>
<rect x="429.40" y="461.28" width="10.19" height="4.05" rx="3.20" ry="2.02" fill="#0c0c0c" fill-opacity="0.99" filter="url(#b1)"/>
<rect x="437.90" y="461.28" width="10.19" height="4.05" rx="3.20" ry="2.02" fill="#0c0c0c" fill-opacity="0.99" filter="url(#b1)"/>
<rect x="446.20" y="461.38" width="10.19" height="4.23" rx="3.20" ry="2.12" fill="#0c0c0c" fill-opacity="0.99" filter="url(#b1)"/>
<rect x="454.20" y="461.58" width="10.19" height="4.23" rx="3.20" ry="2.12" fill="#0c0c0c" fill-opacity="0.99" filter="url(#b1)"/>
<rect x="461.80" y="461.58" width="10.19" height="4.23" rx="3.20" ry="2.12" fill="#0c0c0c" fill-opacity="0.99" filter="url(#b1)"/>
<rect x="471.50" y="461.29" width="10.19" height="4.42" rx="3.20" ry="2.21" fill="#0c0c0c" fill-opacity="0.99" filter="url(#b1)"/>
<rect x="480.30" y="461.89" width="10.19" height="4.42" rx="3.20" ry="2.21" fill="#0c0c0c" fill-opacity="0.99" filter="url(#b1)"/>
<rect x="489.90" y="462.12" width="10.19" height="5.15" rx="3.20" ry="2.58" fill="#0c0c0c" fill-opacity="0.99" filter="url(#b1)"/>
</g>
<rect x="390.00" y="457.70" width="112.00" height="11.80" fill="none" stroke="#333" stroke-width="0.7"/>
<text x="24.20" y="526.20" font-size="12.2" font-weight="bold" fill="#000" stroke="#000" stroke-width="0.3">H</text>
<text x="94.80" y="529.60" font-size="6.85" text-anchor="end">Abemaciclib (μM)</text>
<text x="94.80" y="540.40" font-size="6.85" text-anchor="end">Venetoclax (μM)</text>
<text x="107.20" y="529.60" font-size="6.8" text-anchor="middle">–</text>
<text x="124.20" y="529.60" font-size="6.8" text-anchor="middle">1</text>
<text x="141.50" y="529.60" font-size="6.8" text-anchor="middle">–</text>
<text x="158.50" y="529.60" font-size="6.8" text-anchor="middle">1</text>
<text x="107.20" y="540.40" font-size="6.8" text-anchor="middle">–</text>
<text x="124.20" y="540.40" font-size="6.8" text-anchor="middle">–</text>
<text x="141.50" y="540.40" font-size="6.8" text-anchor="middle">0.5</text>
<text x="158.50" y="540.40" font-size="6.8" text-anchor="middle">0.5</text>
<text x="94.80" y="557.40" font-size="6.95" text-anchor="end">HSP27</text>
<text x="94.80" y="574.40" font-size="6.95" text-anchor="end">PARP</text>
<text x="94.80" y="585.80" font-size="6.95" text-anchor="end">cleaved PARP</text>
<text x="94.80" y="602.10" font-size="6.95" text-anchor="end">β-actin</text>
<clipPath id="sc1"><rect x="99.00" y="547.20" width="67.70" height="15.40"/></clipPath>
<g clip-path="url(#sc1)">
<rect x="99.00" y="547.20" width="67.70" height="15.40" fill="#f8f8f8"/>
<rect x="100.44" y="553.19" width="13.52" height="4.42" rx="3.20" ry="2.21" fill="#0c0c0c" fill-opacity="0.99" filter="url(#b1)"/>
<rect x="117.70" y="553.38" width="13.00" height="4.05" rx="3.20" ry="2.02" fill="#0c0c0c" fill-opacity="0.99" filter="url(#b1)"/>
<rect x="135.00" y="552.39" width="13.00" height="4.42" rx="3.20" ry="2.21" fill="#0c0c0c" fill-opacity="0.99" filter="url(#b1)"/>
<rect x="153.56" y="553.80" width="9.88" height="2.39" rx="3.20" ry="1.20" fill="#0c0c0c" fill-opacity="0.50" filter="url(#b1)"/>
</g>
<rect x="99.00" y="547.20" width="67.70" height="15.40" fill="none" stroke="#333" stroke-width="0.7"/>
<clipPath id="sc2"><rect x="99.00" y="564.60" width="67.70" height="24.40"/></clipPath>
<g clip-path="url(#sc2)">
<rect x="99.00" y="564.60" width="67.70" height="24.40" fill="#f8f8f8"/>
<rect x="99.66" y="569.73" width="15.08" height="5.34" rx="3.20" ry="2.67" fill="#0c0c0c" fill-opacity="0.99" filter="url(#b1)"/>
<rect x="116.66" y="567.96" width="15.08" height="6.07" rx="3.20" ry="3.04" fill="#0c0c0c" fill-opacity="0.99" filter="url(#b1)"/>
<rect x="135.00" y="568.78" width="13.00" height="4.05" rx="3.20" ry="2.02" fill="#0c0c0c" fill-opacity="0.99" filter="url(#b1)"/>
<rect x="153.30" y="569.51" width="10.40" height="2.58" rx="3.20" ry="1.29" fill="#0c0c0c" fill-opacity="0.30" filter="url(#b1)"/>
<rect x="101.48" y="582.20" width="11.44" height="2.39" rx="3.20" ry="1.20" fill="#0c0c0c" fill-opacity="0.20" filter="url(#b1)"/>
<rect x="117.70" y="581.16" width="13.00" height="3.68" rx="3.20" ry="1.84" fill="#0c0c0c" fill-opacity="0.98" filter="url(#b1)"/>
<rect x="135.78" y="580.44" width="11.44" height="3.13" rx="3.20" ry="1.56" fill="#0c0c0c" fill-opacity="0.85" filter="url(#b1)"/>
<rect x="150.96" y="578.13" width="15.08" height="5.34" rx="3.20" ry="2.67" fill="#0c0c0c" fill-opacity="0.99" filter="url(#b1)"/>
<rect x="102.00" y="576.22" width="10.40" height="2.76" rx="3.20" ry="1.38" fill="#0c0c0c" fill-opacity="0.10" filter="url(#b1)"/>
<rect x="119.00" y="576.22" width="10.40" height="2.76" rx="3.20" ry="1.38" fill="#0c0c0c" fill-opacity="0.12" filter="url(#b1)"/>
</g>
<rect x="99.00" y="564.60" width="67.70" height="24.40" fill="none" stroke="#333" stroke-width="0.7"/>
<clipPath id="sc3"><rect x="99.00" y="591.60" width="67.70" height="15.60"/></clipPath>
<g clip-path="url(#sc3)">
<rect x="99.00" y="591.60" width="67.70" height="15.60" fill="#f8f8f8"/>
<rect x="100.70" y="598.28" width="13.00" height="4.23" rx="3.20" ry="2.12" fill="#0c0c0c" fill-opacity="0.99" filter="url(#b1)"/>
<rect x="117.96" y="598.38" width="12.48" height="4.05" rx="3.20" ry="2.02" fill="#0c0c0c" fill-opacity="0.99" filter="url(#b1)"/>
<rect x="135.52" y="597.67" width="11.96" height="3.86" rx="3.20" ry="1.93" fill="#0c0c0c" fill-opacity="0.99" filter="url(#b1)"/>
<rect x="151.74" y="596.50" width="13.52" height="4.60" rx="3.20" ry="2.30" fill="#0c0c0c" fill-opacity="0.99" filter="url(#b1)"/>
</g>
<rect x="99.00" y="591.60" width="67.70" height="15.60" fill="none" stroke="#333" stroke-width="0.7"/>
<text x="184.90" y="526.30" font-size="12.2" font-weight="bold" fill="#000" stroke="#000" stroke-width="0.3">I</text>
<text x="215.80" y="576.40" font-size="6.95" text-anchor="end">HSP27</text>
<text x="215.80" y="595.60" font-size="6.95" text-anchor="end">β-actin</text>
<text x="0.00" y="0.00" font-size="7.1" transform="translate(231.60 563.60) rotate(-62)">Mock</text>
<text x="0.00" y="0.00" font-size="7.1" transform="translate(249.80 563.60) rotate(-62)">Ctrl</text>
<text x="0.00" y="0.00" font-size="7.1" transform="translate(269.60 563.60) rotate(-62)">HSP27 OE</text>
<clipPath id="sc4"><rect x="219.50" y="566.30" width="58.50" height="16.20"/></clipPath>
<g clip-path="url(#sc4)">
<rect x="219.50" y="566.30" width="58.50" height="16.20" fill="#f8f8f8"/>
<rect x="223.32" y="572.21" width="11.96" height="2.58" rx="3.20" ry="1.29" fill="#0c0c0c" fill-opacity="0.95" filter="url(#b1)"/>
<rect x="241.52" y="571.92" width="11.96" height="2.76" rx="3.20" ry="1.38" fill="#0c0c0c" fill-opacity="0.95" filter="url(#b1)"/>
<rect x="256.68" y="570.72" width="19.24" height="5.15" rx="3.20" ry="2.58" fill="#0c0c0c" fill-opacity="0.99" filter="url(#b1)"/>
</g>
<rect x="219.50" y="566.30" width="58.50" height="16.20" fill="none" stroke="#333" stroke-width="0.7"/>
<clipPath id="sc5"><rect x="219.50" y="585.80" width="58.50" height="16.70"/></clipPath>
<g clip-path="url(#sc5)">
<rect x="219.50" y="585.80" width="58.50" height="16.70" fill="#f8f8f8"/>
<rect x="222.80" y="593.13" width="13.00" height="2.94" rx="3.20" ry="1.47" fill="#0c0c0c" fill-opacity="0.97" filter="url(#b1)"/>
<rect x="241.52" y="593.22" width="11.96" height="2.76" rx="3.20" ry="1.38" fill="#0c0c0c" fill-opacity="0.97" filter="url(#b1)"/>
<rect x="260.32" y="593.22" width="11.96" height="2.76" rx="3.20" ry="1.38" fill="#0c0c0c" fill-opacity="0.96" filter="url(#b1)"/>
</g>
<rect x="219.50" y="585.80" width="58.50" height="16.70" fill="none" stroke="#333" stroke-width="0.7"/>
<text x="301.60" y="526.30" font-size="12.2" font-weight="bold" fill="#000" stroke="#000" stroke-width="0.3">J</text>
<line x1="358.10" y1="563.25" x2="358.10" y2="561.17" stroke="#154c8a" stroke-width="0.8"/>
<line x1="355.70" y1="561.17" x2="360.50" y2="561.17" stroke="#154c8a" stroke-width="0.8"/>
<rect x="354.20" y="563.25" width="7.80" height="34.75" fill="#154c8a"/>
<line x1="371.90" y1="541.20" x2="371.90" y2="537.49" stroke="#cc0c30" stroke-width="0.8"/>
<line x1="369.50" y1="537.49" x2="374.30" y2="537.49" stroke="#cc0c30" stroke-width="0.8"/>
<rect x="368.00" y="541.20" width="7.80" height="56.80" fill="#cc0c30"/>
<line x1="396.20" y1="581.29" x2="396.20" y2="578.32" stroke="#154c8a" stroke-width="0.8"/>
<line x1="393.80" y1="578.32" x2="398.60" y2="578.32" stroke="#154c8a" stroke-width="0.8"/>
<rect x="392.30" y="581.29" width="7.80" height="16.71" fill="#154c8a"/>
<line x1="410.00" y1="555.68" x2="410.00" y2="547.51" stroke="#cc0c30" stroke-width="0.8"/>
<line x1="407.60" y1="547.51" x2="412.40" y2="547.51" stroke="#cc0c30" stroke-width="0.8"/>
<rect x="406.10" y="555.68" width="7.80" height="42.32" fill="#cc0c30"/>
<line x1="434.60" y1="567.78" x2="434.60" y2="563.33" stroke="#154c8a" stroke-width="0.8"/>
<line x1="432.20" y1="563.33" x2="437.00" y2="563.33" stroke="#154c8a" stroke-width="0.8"/>
<rect x="430.70" y="567.78" width="7.80" height="30.22" fill="#154c8a"/>
<rect x="444.50" y="558.65" width="7.80" height="39.35" fill="#cc0c30"/>
<line x1="472.90" y1="587.38" x2="472.90" y2="586.19" stroke="#154c8a" stroke-width="0.8"/>
<line x1="470.50" y1="586.19" x2="475.30" y2="586.19" stroke="#154c8a" stroke-width="0.8"/>
<rect x="469.00" y="587.38" width="7.80" height="10.62" fill="#154c8a"/>
<line x1="486.70" y1="567.33" x2="486.70" y2="565.11" stroke="#cc0c30" stroke-width="0.8"/>
<line x1="484.30" y1="565.11" x2="489.10" y2="565.11" stroke="#cc0c30" stroke-width="0.8"/>
<rect x="482.80" y="567.33" width="7.80" height="30.67" fill="#cc0c30"/>
<line x1="347.50" y1="521.30" x2="347.50" y2="598.55" stroke="#231f20" stroke-width="1.1"/>
<line x1="344.60" y1="598.00" x2="495.80" y2="598.00" stroke="#231f20" stroke-width="1.1"/>
<line x1="344.60" y1="598.00" x2="347.50" y2="598.00" stroke="#231f20" stroke-width="0.95"/>
<text x="340.90" y="600.50" font-size="7.1" text-anchor="end">0</text>
<line x1="344.60" y1="583.15" x2="347.50" y2="583.15" stroke="#231f20" stroke-width="0.95"/>
<text x="340.90" y="585.65" font-size="7.1" text-anchor="end">200</text>
<line x1="344.60" y1="568.30" x2="347.50" y2="568.30" stroke="#231f20" stroke-width="0.95"/>
<text x="340.90" y="570.80" font-size="7.1" text-anchor="end">400</text>
<line x1="344.60" y1="553.45" x2="347.50" y2="553.45" stroke="#231f20" stroke-width="0.95"/>
<text x="340.90" y="555.95" font-size="7.1" text-anchor="end">600</text>
<line x1="344.60" y1="538.60" x2="347.50" y2="538.60" stroke="#231f20" stroke-width="0.95"/>
<text x="340.90" y="541.10" font-size="7.1" text-anchor="end">800</text>
<line x1="344.60" y1="523.75" x2="347.50" y2="523.75" stroke="#231f20" stroke-width="0.95"/>
<text x="340.90" y="526.25" font-size="7.1" text-anchor="end">1000</text>
<line x1="365.00" y1="598.00" x2="365.00" y2="601.00" stroke="#231f20" stroke-width="0.8"/>
<text x="364.50" y="610.10" font-size="6.8" text-anchor="middle">DMSO</text>
<line x1="403.10" y1="598.00" x2="403.10" y2="601.00" stroke="#231f20" stroke-width="0.8"/>
<text x="402.60" y="610.10" font-size="6.8" text-anchor="middle">Abemaciclib</text>
<line x1="441.50" y1="598.00" x2="441.50" y2="601.00" stroke="#231f20" stroke-width="0.8"/>
<text x="441.00" y="610.10" font-size="6.8" text-anchor="middle">Venetoclax</text>
<line x1="479.80" y1="598.00" x2="479.80" y2="601.00" stroke="#231f20" stroke-width="0.8"/>
<text x="479.30" y="610.10" font-size="6.8" text-anchor="middle">Combo</text>
<text x="0.00" y="0.00" font-size="8.6" text-anchor="middle" transform="translate(319.00 559.50) rotate(-90) scale(0.72 1)" stroke="#231f20" stroke-width="0.22">Viable cells (×10<tspan baseline-shift="super" font-size="5.5">3</tspan>)</text>
<line x1="355.00" y1="532.50" x2="369.50" y2="532.50" stroke="#231f20" stroke-width="1.25"/>
<text x="364.60" y="529.40" font-size="6.8" text-anchor="middle"><tspan font-style="italic">P</tspan> = .0119</text>
<line x1="395.00" y1="543.50" x2="408.80" y2="543.50" stroke="#231f20" stroke-width="1.25"/>
<text x="402.70" y="540.20" font-size="6.8" text-anchor="middle"><tspan font-style="italic">P</tspan> = .0422</text>
<line x1="434.20" y1="553.50" x2="448.00" y2="553.50" stroke="#231f20" stroke-width="1.25"/>
<text x="441.00" y="549.60" font-size="6.8" text-anchor="middle"><tspan font-style="italic">ns</tspan></text>
<line x1="470.40" y1="562.50" x2="484.20" y2="562.50" stroke="#231f20" stroke-width="1.25"/>
<text x="478.90" y="559.80" font-size="6.8" text-anchor="middle"><tspan font-style="italic">P</tspan> = .0029</text>
<rect x="453.80" y="521.20" width="5.80" height="5.80" fill="#154c8a"/>
<rect x="453.80" y="531.50" width="5.80" height="5.80" fill="#cc0c30"/>
<text x="464.00" y="526.00" font-size="6.4">Mock</text>
<text x="464.00" y="536.40" font-size="6.4">HSPB1 OE</text>
<text x="40.30" y="632.90" font-size="12.2" font-weight="bold" fill="#000" stroke="#000" stroke-width="0.3">K</text>
<text x="74.30" y="680.60" font-size="6.95" text-anchor="end">HSP27</text>
<text x="74.30" y="703.10" font-size="6.95" text-anchor="end">GAPDH</text>
<text x="0.00" y="0.00" font-size="7" transform="translate(91.70 664.20) rotate(-90)">Mock</text>
<text x="0.00" y="0.00" font-size="7" transform="translate(117.50 664.20) rotate(-90)">KO1</text>
<text x="0.00" y="0.00" font-size="7" transform="translate(138.70 664.20) rotate(-90)">KO2</text>
<clipPath id="sc6"><rect x="77.00" y="667.50" width="66.80" height="19.50"/></clipPath>
<g clip-path="url(#sc6)">
<rect x="77.00" y="667.50" width="66.80" height="19.50" fill="#f8f8f8"/>
<rect x="78.80" y="675.29" width="18.20" height="4.42" rx="3.20" ry="2.21" fill="#0c0c0c" fill-opacity="0.99" filter="url(#b1)"/>
</g>
<rect x="77.00" y="667.50" width="66.80" height="19.50" fill="none" stroke="#333" stroke-width="0.7"/>
<clipPath id="sc7"><rect x="77.00" y="691.30" width="66.80" height="18.70"/></clipPath>
<g clip-path="url(#sc7)">
<rect x="77.00" y="691.30" width="66.80" height="18.70" fill="#f8f8f8"/>
<rect x="77.66" y="696.65" width="20.28" height="8.10" rx="3.20" ry="4.05" fill="#0c0c0c" fill-opacity="0.99" filter="url(#b2)"/>
<rect x="99.66" y="696.84" width="20.28" height="7.73" rx="3.20" ry="3.86" fill="#0c0c0c" fill-opacity="0.99" filter="url(#b2)"/>
<rect x="120.58" y="696.36" width="21.84" height="8.28" rx="3.20" ry="4.14" fill="#0c0c0c" fill-opacity="0.99" filter="url(#b2)"/>
</g>
<rect x="77.00" y="691.30" width="66.80" height="18.70" fill="none" stroke="#333" stroke-width="0.7"/>
<text x="162.20" y="632.70" font-size="12.2" font-weight="bold" fill="#000" stroke="#000" stroke-width="0.3">L</text>
<text x="230.00" y="633.20" font-size="8.5" text-anchor="middle">JeKo-1</text>
<line x1="214.10" y1="699.22" x2="214.10" y2="702.30" stroke="#154c8a" stroke-width="0.7"/>
<line x1="212.60" y1="699.22" x2="215.60" y2="699.22" stroke="#154c8a" stroke-width="0.7"/>
<line x1="212.60" y1="702.30" x2="215.60" y2="702.30" stroke="#154c8a" stroke-width="0.7"/>
<line x1="229.40" y1="691.75" x2="229.40" y2="693.29" stroke="#154c8a" stroke-width="0.7"/>
<line x1="227.90" y1="691.75" x2="230.90" y2="691.75" stroke="#154c8a" stroke-width="0.7"/>
<line x1="227.90" y1="693.29" x2="230.90" y2="693.29" stroke="#154c8a" stroke-width="0.7"/>
<line x1="244.70" y1="678.87" x2="244.70" y2="680.42" stroke="#154c8a" stroke-width="0.7"/>
<line x1="243.20" y1="678.87" x2="246.20" y2="678.87" stroke="#154c8a" stroke-width="0.7"/>
<line x1="243.20" y1="680.42" x2="246.20" y2="680.42" stroke="#154c8a" stroke-width="0.7"/>
<line x1="260.00" y1="656.47" x2="260.00" y2="661.62" stroke="#154c8a" stroke-width="0.7"/>
<line x1="258.50" y1="656.47" x2="261.50" y2="656.47" stroke="#154c8a" stroke-width="0.7"/>
<line x1="258.50" y1="661.62" x2="261.50" y2="661.62" stroke="#154c8a" stroke-width="0.7"/>
<polyline points="198.80,709.00 214.10,700.76 229.40,692.52 244.70,679.64 260.00,659.04" fill="none" stroke="#154c8a" stroke-width="1.0" stroke-linejoin="round"/>
<circle cx="214.10" cy="700.76" r="1.25" fill="#154c8a"/>
<circle cx="229.40" cy="692.52" r="1.25" fill="#154c8a"/>
<circle cx="244.70" cy="679.64" r="1.25" fill="#154c8a"/>
<circle cx="260.00" cy="659.04" r="1.25" fill="#154c8a"/>
<line x1="214.10" y1="711.06" x2="214.10" y2="712.09" stroke="#1f7a63" stroke-width="0.7"/>
<line x1="212.60" y1="711.06" x2="215.60" y2="711.06" stroke="#1f7a63" stroke-width="0.7"/>
<line x1="212.60" y1="712.09" x2="215.60" y2="712.09" stroke="#1f7a63" stroke-width="0.7"/>
<line x1="229.40" y1="705.39" x2="229.40" y2="706.42" stroke="#1f7a63" stroke-width="0.7"/>
<line x1="227.90" y1="705.39" x2="230.90" y2="705.39" stroke="#1f7a63" stroke-width="0.7"/>
<line x1="227.90" y1="706.42" x2="230.90" y2="706.42" stroke="#1f7a63" stroke-width="0.7"/>
<line x1="244.70" y1="702.30" x2="244.70" y2="703.33" stroke="#1f7a63" stroke-width="0.7"/>
<line x1="243.20" y1="702.30" x2="246.20" y2="702.30" stroke="#1f7a63" stroke-width="0.7"/>
<line x1="243.20" y1="703.33" x2="246.20" y2="703.33" stroke="#1f7a63" stroke-width="0.7"/>
<line x1="260.00" y1="680.67" x2="260.00" y2="682.73" stroke="#1f7a63" stroke-width="0.7"/>
<line x1="258.50" y1="680.67" x2="261.50" y2="680.67" stroke="#1f7a63" stroke-width="0.7"/>
<line x1="258.50" y1="682.73" x2="261.50" y2="682.73" stroke="#1f7a63" stroke-width="0.7"/>
<polyline points="198.80,709.00 214.10,711.57 229.40,705.91 244.70,702.82 260.00,681.70" fill="none" stroke="#1f7a63" stroke-width="1.0" stroke-linejoin="round"/>
<path d="M214.10 710.07 L215.48 712.70 L212.73 712.70 Z" fill="#1f7a63"/>
<path d="M229.40 704.41 L230.78 707.03 L228.03 707.03 Z" fill="#1f7a63"/>
<path d="M244.70 701.32 L246.08 703.94 L243.33 703.94 Z" fill="#1f7a63"/>
<path d="M260.00 680.20 L261.38 682.83 L258.62 682.83 Z" fill="#1f7a63"/>
<line x1="214.10" y1="706.94" x2="214.10" y2="709.00" stroke="#e6007e" stroke-width="0.7"/>
<line x1="212.60" y1="706.94" x2="215.60" y2="706.94" stroke="#e6007e" stroke-width="0.7"/>
<line x1="212.60" y1="709.00" x2="215.60" y2="709.00" stroke="#e6007e" stroke-width="0.7"/>
<line x1="229.40" y1="701.27" x2="229.40" y2="704.36" stroke="#e6007e" stroke-width="0.7"/>
<line x1="227.90" y1="701.27" x2="230.90" y2="701.27" stroke="#e6007e" stroke-width="0.7"/>
<line x1="227.90" y1="704.36" x2="230.90" y2="704.36" stroke="#e6007e" stroke-width="0.7"/>
<line x1="244.70" y1="695.09" x2="244.70" y2="696.64" stroke="#e6007e" stroke-width="0.7"/>
<line x1="243.20" y1="695.09" x2="246.20" y2="695.09" stroke="#e6007e" stroke-width="0.7"/>
<line x1="243.20" y1="696.64" x2="246.20" y2="696.64" stroke="#e6007e" stroke-width="0.7"/>
<line x1="260.00" y1="678.87" x2="260.00" y2="682.48" stroke="#e6007e" stroke-width="0.7"/>
<line x1="258.50" y1="678.87" x2="261.50" y2="678.87" stroke="#e6007e" stroke-width="0.7"/>
<line x1="258.50" y1="682.48" x2="261.50" y2="682.48" stroke="#e6007e" stroke-width="0.7"/>
<polyline points="198.80,709.00 214.10,707.97 229.40,702.82 244.70,695.87 260.00,680.67" fill="none" stroke="#e6007e" stroke-width="1.0" stroke-linejoin="round"/>
<rect x="212.85" y="706.72" width="2.50" height="2.50" fill="#e6007e"/>
<rect x="228.15" y="701.57" width="2.50" height="2.50" fill="#e6007e"/>
<rect x="243.45" y="694.62" width="2.50" height="2.50" fill="#e6007e"/>
<rect x="258.75" y="679.42" width="2.50" height="2.50" fill="#e6007e"/>
<line x1="198.80" y1="639.50" x2="198.80" y2="719.85" stroke="#231f20" stroke-width="1.1"/>
<line x1="195.90" y1="719.30" x2="262.60" y2="719.30" stroke="#231f20" stroke-width="1.1"/>
<line x1="195.90" y1="719.30" x2="198.80" y2="719.30" stroke="#231f20" stroke-width="0.95"/>
<text x="193.00" y="721.90" font-size="7.1" text-anchor="end">0.0</text>
<line x1="195.90" y1="693.55" x2="198.80" y2="693.55" stroke="#231f20" stroke-width="0.95"/>
<text x="193.00" y="696.15" font-size="7.1" text-anchor="end">0.5</text>
<line x1="195.90" y1="667.80" x2="198.80" y2="667.80" stroke="#231f20" stroke-width="0.95"/>
<text x="193.00" y="670.40" font-size="7.1" text-anchor="end">1.0</text>
<line x1="195.90" y1="642.05" x2="198.80" y2="642.05" stroke="#231f20" stroke-width="0.95"/>
<text x="193.00" y="644.65" font-size="7.1" text-anchor="end">1.5</text>
<line x1="198.80" y1="719.30" x2="198.80" y2="722.50" stroke="#231f20" stroke-width="0.95"/>
<text x="198.80" y="731.60" font-size="7.1" text-anchor="middle">0</text>
<line x1="214.10" y1="719.30" x2="214.10" y2="722.50" stroke="#231f20" stroke-width="0.95"/>
<text x="214.10" y="731.60" font-size="7.1" text-anchor="middle">24</text>
<line x1="229.40" y1="719.30" x2="229.40" y2="722.50" stroke="#231f20" stroke-width="0.95"/>
<text x="229.40" y="731.60" font-size="7.1" text-anchor="middle">48</text>
<line x1="244.70" y1="719.30" x2="244.70" y2="722.50" stroke="#231f20" stroke-width="0.95"/>
<text x="244.70" y="731.60" font-size="7.1" text-anchor="middle">72</text>
<line x1="260.00" y1="719.30" x2="260.00" y2="722.50" stroke="#231f20" stroke-width="0.95"/>
<text x="260.00" y="731.60" font-size="7.1" text-anchor="middle">96</text>
<text x="0.00" y="0.00" font-size="8.6" text-anchor="middle" transform="translate(176.60 680.00) rotate(-90) scale(0.72 1)" stroke="#231f20" stroke-width="0.22">Cell number (×10<tspan baseline-shift="super" font-size="5.5">6</tspan>)</text>
<line x1="266.20" y1="668.00" x2="272.60" y2="668.00" stroke="#154c8a" stroke-width="0.9"/>
<circle cx="269.40" cy="668.00" r="1.25" fill="#154c8a"/>
<text x="276.20" y="670.20" font-size="6.3">Mock</text>
<line x1="266.20" y1="678.60" x2="272.60" y2="678.60" stroke="#e6007e" stroke-width="0.9"/>
<rect x="268.15" y="677.35" width="2.50" height="2.50" fill="#e6007e"/>
<text x="276.20" y="680.80" font-size="6.3"><tspan font-style="italic">HSPB1</tspan> KO1</text>
<line x1="266.20" y1="688.80" x2="272.60" y2="688.80" stroke="#1f7a63" stroke-width="0.9"/>
<path d="M269.40 687.30 L270.77 689.92 L268.02 689.92 Z" fill="#1f7a63"/>
<text x="276.20" y="691.00" font-size="6.3"><tspan font-style="italic">HSPB1</tspan> KO2</text>
<text x="329.00" y="633.00" font-size="12.2" font-weight="bold" fill="#000" stroke="#000" stroke-width="0.3">M</text>
<line x1="379.90" y1="703.50" x2="379.90" y2="696.30" stroke="#154c8a" stroke-width="0.8"/>
<line x1="377.30" y1="696.30" x2="382.50" y2="696.30" stroke="#154c8a" stroke-width="0.8"/>
<rect x="375.40" y="703.50" width="9.00" height="8.70" fill="#154c8a"/>
<line x1="395.60" y1="702.75" x2="395.60" y2="701.70" stroke="#154c8a" stroke-width="0.8"/>
<line x1="393.00" y1="701.70" x2="398.20" y2="701.70" stroke="#154c8a" stroke-width="0.8"/>
<rect x="391.10" y="702.75" width="9.00" height="9.45" fill="#154c8a"/>
<line x1="411.40" y1="701.25" x2="411.40" y2="698.85" stroke="#154c8a" stroke-width="0.8"/>
<line x1="408.80" y1="698.85" x2="414.00" y2="698.85" stroke="#154c8a" stroke-width="0.8"/>
<rect x="406.90" y="701.25" width="9.00" height="10.95" fill="#154c8a"/>
<line x1="437.90" y1="690.15" x2="437.90" y2="689.40" stroke="#cc0c30" stroke-width="0.8"/>
<line x1="435.30" y1="689.40" x2="440.50" y2="689.40" stroke="#cc0c30" stroke-width="0.8"/>
<rect x="433.40" y="690.15" width="9.00" height="22.05" fill="#cc0c30"/>
<line x1="453.40" y1="669.90" x2="453.40" y2="667.50" stroke="#cc0c30" stroke-width="0.8"/>
<line x1="450.80" y1="667.50" x2="456.00" y2="667.50" stroke="#cc0c30" stroke-width="0.8"/>
<rect x="448.90" y="669.90" width="9.00" height="42.30" fill="#cc0c30"/>
<line x1="469.50" y1="668.25" x2="469.50" y2="666.00" stroke="#cc0c30" stroke-width="0.8"/>
<line x1="466.90" y1="666.00" x2="472.10" y2="666.00" stroke="#cc0c30" stroke-width="0.8"/>
<rect x="465.00" y="668.25" width="9.00" height="43.95" fill="#cc0c30"/>
<line x1="369.30" y1="634.50" x2="369.30" y2="712.75" stroke="#231f20" stroke-width="1.1"/>
<line x1="366.40" y1="712.20" x2="480.20" y2="712.20" stroke="#231f20" stroke-width="1.1"/>
<line x1="366.40" y1="712.20" x2="369.30" y2="712.20" stroke="#231f20" stroke-width="0.95"/>
<text x="363.70" y="714.80" font-size="7.1" text-anchor="end">0</text>
<line x1="366.40" y1="697.20" x2="369.30" y2="697.20" stroke="#231f20" stroke-width="0.95"/>
<text x="363.70" y="699.80" font-size="7.1" text-anchor="end">10</text>
<line x1="366.40" y1="682.20" x2="369.30" y2="682.20" stroke="#231f20" stroke-width="0.95"/>
<text x="363.70" y="684.80" font-size="7.1" text-anchor="end">20</text>
<line x1="366.40" y1="667.20" x2="369.30" y2="667.20" stroke="#231f20" stroke-width="0.95"/>
<text x="363.70" y="669.80" font-size="7.1" text-anchor="end">30</text>
<line x1="366.40" y1="652.20" x2="369.30" y2="652.20" stroke="#231f20" stroke-width="0.95"/>
<text x="363.70" y="654.80" font-size="7.1" text-anchor="end">40</text>
<line x1="366.40" y1="637.20" x2="369.30" y2="637.20" stroke="#231f20" stroke-width="0.95"/>
<text x="363.70" y="639.80" font-size="7.1" text-anchor="end">50</text>
<line x1="379.90" y1="712.20" x2="379.90" y2="715.40" stroke="#231f20" stroke-width="0.95"/>
<text x="0.00" y="0.00" font-size="7.1" text-anchor="end" transform="translate(381.20 720.50) rotate(-45)">Mock</text>
<line x1="395.60" y1="712.20" x2="395.60" y2="715.40" stroke="#231f20" stroke-width="0.95"/>
<text x="0.00" y="0.00" font-size="7.1" text-anchor="end" transform="translate(396.90 720.50) rotate(-45)"><tspan font-style="italic">HSPB1</tspan> KO1</text>
<line x1="411.40" y1="712.20" x2="411.40" y2="715.40" stroke="#231f20" stroke-width="0.95"/>
<text x="0.00" y="0.00" font-size="7.1" text-anchor="end" transform="translate(412.70 720.50) rotate(-45)"><tspan font-style="italic">HSPB1</tspan> KO2</text>
<line x1="437.90" y1="712.20" x2="437.90" y2="715.40" stroke="#231f20" stroke-width="0.95"/>
<text x="0.00" y="0.00" font-size="7.1" text-anchor="end" transform="translate(439.20 720.50) rotate(-45)">Mock</text>
<line x1="453.40" y1="712.20" x2="453.40" y2="715.40" stroke="#231f20" stroke-width="0.95"/>
<text x="0.00" y="0.00" font-size="7.1" text-anchor="end" transform="translate(454.70 720.50) rotate(-45)"><tspan font-style="italic">HSPB1</tspan> KO1</text>
<line x1="469.50" y1="712.20" x2="469.50" y2="715.40" stroke="#231f20" stroke-width="0.95"/>
<text x="0.00" y="0.00" font-size="7.1" text-anchor="end" transform="translate(470.80 720.50) rotate(-45)"><tspan font-style="italic">HSPB1</tspan> KO2</text>
<text x="0.00" y="0.00" font-size="8.6" text-anchor="middle" transform="translate(349.00 676.30) rotate(-90) scale(0.72 1)" stroke="#231f20" stroke-width="0.22">Apoptotic cells (%)</text>
<rect x="377.00" y="641.20" width="6.60" height="6.40" fill="#154c8a"/>
<rect x="377.00" y="651.70" width="6.60" height="6.40" fill="#cc0c30"/>
<text x="387.00" y="646.80" font-size="6.4">DMSO</text>
<text x="387.00" y="657.20" font-size="6.4">Venetoclax</text>
<line x1="439.20" y1="647.50" x2="469.70" y2="647.50" stroke="#231f20" stroke-width="1.25"/>
<text x="454.40" y="643.60" font-size="6.8" text-anchor="middle"><tspan font-style="italic">P</tspan> = 1.0e-5</text>
<line x1="439.20" y1="660.50" x2="454.70" y2="660.50" stroke="#231f20" stroke-width="1.25"/>
<text x="446.90" y="657.20" font-size="6.8" text-anchor="middle"><tspan font-style="italic">P</tspan> = 1.9e-5</text>
<rect x="0.5" y="0.5" width="519" height="757" fill="none" stroke="#3a3a3a" stroke-width="1.25"/>
</svg>
</body>
</html>
